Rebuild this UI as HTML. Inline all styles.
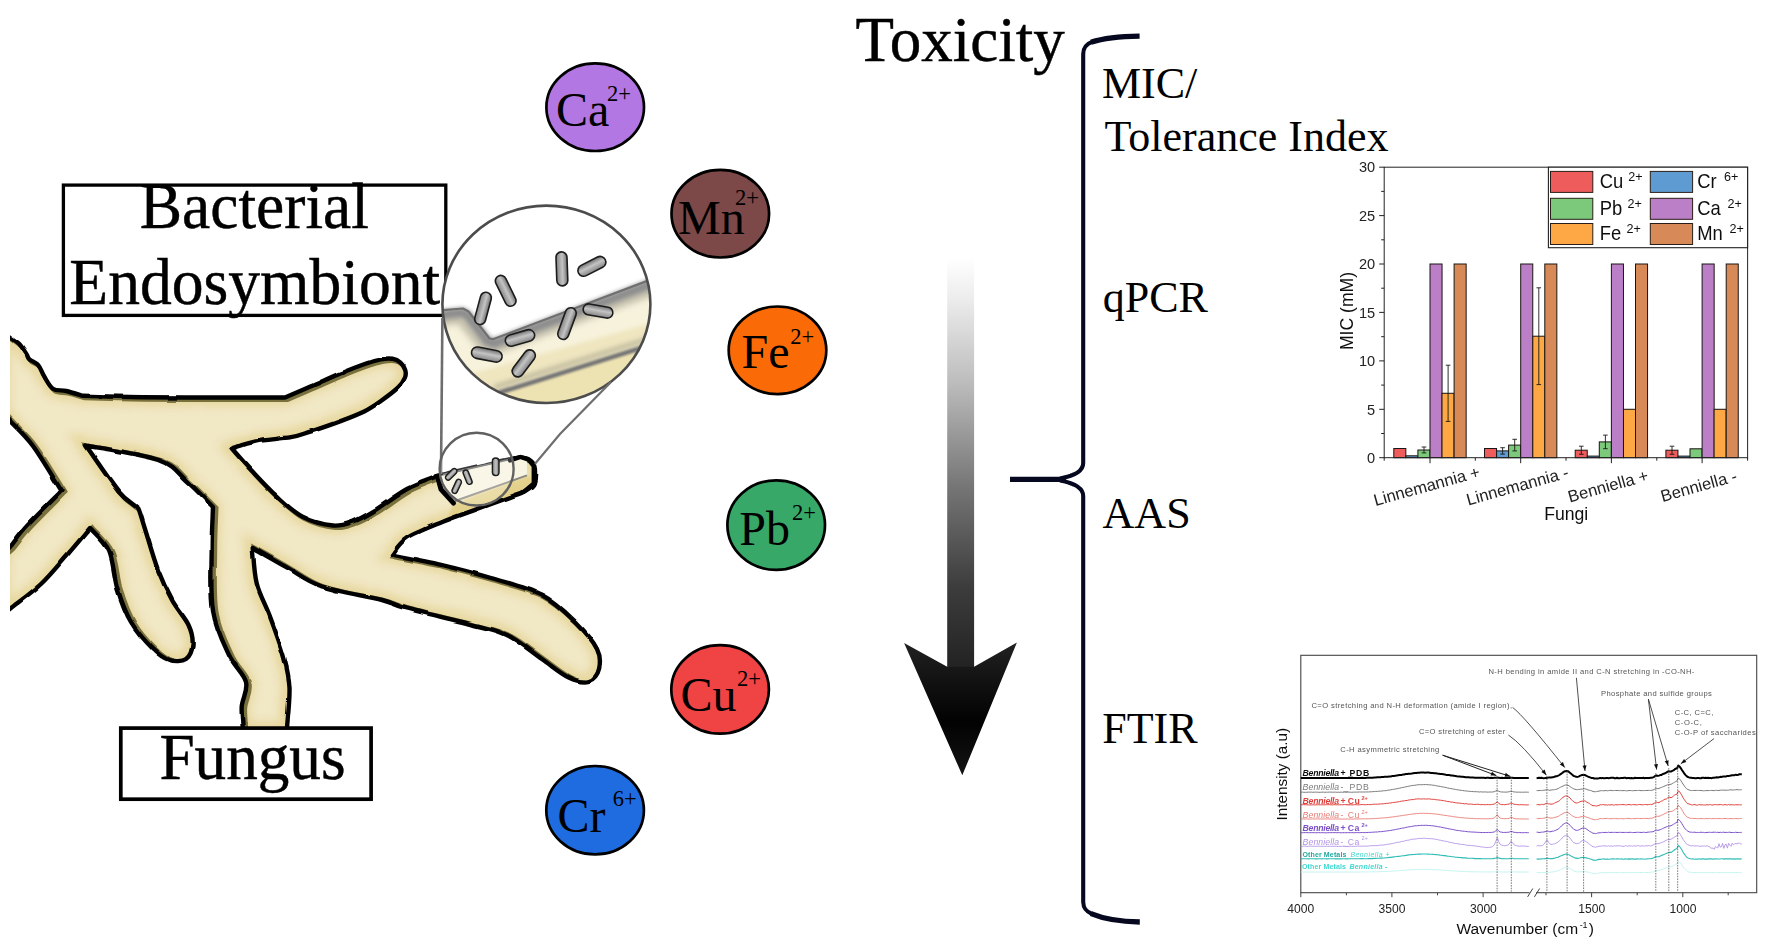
<!DOCTYPE html>
<html><head><meta charset="utf-8"><title>Graphical abstract</title>
<style>
html,body{margin:0;padding:0;background:#fff;}
body{width:1772px;height:952px;overflow:hidden;font-family:"Liberation Sans",sans-serif;}
svg{display:block}
.serif{font-family:"Liberation Serif",serif;}
.sans{font-family:"Liberation Sans",sans-serif;}
</style></head><body>
<svg width="1772" height="952" viewBox="0 0 1772 952">
<defs>
<clipPath id="leftclip"><rect x="10" y="0" width="1000" height="952"/></clipPath>
<clipPath id="bodyclip"><path d="M2.0 331.0 C3.4 332.0 7.5 335.1 10.3 337.2 C13.2 339.3 16.4 341.0 19.1 343.8 C21.8 346.6 24.8 351.5 26.5 354.1 C28.2 356.7 27.4 357.5 29.4 359.3 C31.3 361.1 35.8 362.3 38.2 365.1 C40.7 367.9 41.7 372.3 44.1 376.2 C46.5 380.1 49.2 386.2 52.9 388.7 C56.6 391.2 61.2 389.8 66.2 391.0 C71.2 392.2 80.2 395.0 83.0 395.8 C90.8 396.0 112.8 396.7 130.0 397.0 C147.2 397.3 160.2 397.4 186.0 397.5 C211.8 397.6 268.5 397.5 285.0 397.5 C289.2 395.7 301.3 390.5 310.4 386.6 C319.4 382.7 330.2 377.7 339.3 373.9 C348.4 370.1 357.8 366.4 364.7 364.0 C371.6 361.6 376.3 360.3 380.9 359.4 C385.5 358.5 389.2 358.3 392.5 358.8 C395.8 359.3 398.4 360.7 400.5 362.6 C402.6 364.5 404.4 367.5 405.2 370.0 C405.9 372.5 406.2 374.6 405.0 377.5 C403.8 380.4 402.2 383.5 398.2 387.4 C394.2 391.3 386.5 397.0 380.9 401.0 C375.3 405.0 371.6 407.8 364.7 411.2 C357.8 414.6 348.4 418.2 339.3 421.6 C330.2 425.0 318.4 429.0 310.4 431.6 C302.3 434.2 300.1 435.6 291.0 437.2 C281.9 438.8 265.4 439.6 255.6 441.5 C245.8 443.4 235.9 447.4 232.0 448.6 C235.3 452.3 244.5 463.0 252.0 471.0 C259.5 479.0 268.6 488.9 277.0 496.5 C285.4 504.1 293.3 511.9 302.6 516.7 C311.9 521.5 324.6 524.7 333.0 525.5 C341.4 526.3 346.2 524.1 353.0 521.7 C359.8 519.3 364.6 516.5 373.6 511.0 C382.6 505.6 396.4 494.8 407.0 489.0 C417.6 483.2 432.4 478.6 437.5 476.5 C438.4 476.1 429.4 477.5 443.0 474.3 C456.6 471.1 506.6 460.1 519.3 457.2 C520.8 457.6 526.1 457.8 528.6 459.3 C531.1 460.8 533.5 462.2 534.4 466.2 C535.3 470.2 535.5 479.3 533.8 483.5 C532.1 487.7 527.6 489.5 524.0 491.6 C520.4 493.7 520.1 493.3 512.4 496.2 C504.7 499.1 489.4 504.6 477.8 508.9 C466.2 513.1 454.8 516.9 443.0 521.7 C431.2 526.6 415.5 532.5 407.0 538.0 C398.5 543.5 394.5 551.9 392.0 554.7 C400.2 556.4 424.5 560.9 441.0 564.8 C457.5 568.7 474.2 573.0 491.0 578.0 C507.8 583.0 527.7 587.7 541.8 595.0 C555.9 602.3 566.3 613.0 575.5 622.0 C584.7 631.0 593.1 641.2 597.0 649.0 C600.9 656.8 600.3 663.7 599.0 669.0 C597.7 674.3 594.0 679.6 589.0 681.0 C584.0 682.4 576.6 681.2 568.7 677.5 C560.8 673.8 551.9 666.0 541.8 659.0 C531.7 652.0 519.2 641.2 508.0 635.5 C496.8 629.8 491.3 629.5 474.5 625.0 C457.7 620.5 422.4 612.7 407.0 608.5 C391.6 604.3 396.2 603.7 382.0 600.0 C367.8 596.3 337.9 591.9 322.0 586.5 C306.1 581.1 298.4 573.8 286.8 567.4 C275.2 561.0 258.4 551.2 252.7 548.0 C253.4 554.0 253.9 572.4 256.8 583.8 C259.7 595.2 265.5 604.3 270.0 616.6 C274.5 628.9 280.8 645.7 284.0 657.5 C287.2 669.3 289.0 675.5 289.5 687.6 C290.0 699.7 287.2 722.9 286.8 730.0 L243.0 730.0 C242.8 726.1 241.2 714.7 241.7 706.7 C242.2 698.7 248.1 690.6 246.0 682.0 C243.9 673.4 234.5 666.8 229.0 655.0 C223.5 643.2 215.9 628.8 213.0 611.0 C210.1 593.2 211.7 565.3 211.7 548.0 C211.7 530.7 212.8 513.8 213.0 507.0 C208.6 502.7 195.6 488.8 186.6 481.0 C177.6 473.2 175.8 465.9 159.0 460.0 C142.2 454.1 98.2 447.9 86.0 445.5 C91.4 453.2 110.2 481.3 118.5 491.5 C126.8 501.7 132.6 503.5 136.0 506.6 C139.4 509.7 137.5 506.3 139.0 510.0 C140.5 513.7 141.8 519.0 145.0 529.0 C148.2 539.0 153.5 558.2 158.0 570.0 C162.5 581.8 166.9 590.8 172.0 600.0 C177.1 609.2 185.1 617.7 188.5 625.0 C191.9 632.3 193.0 638.3 192.6 644.0 C192.2 649.7 189.9 656.3 186.0 659.0 C182.1 661.7 174.5 661.7 169.0 660.0 C163.5 658.3 159.3 655.3 153.0 649.0 C146.7 642.7 136.9 632.0 131.0 622.0 C125.1 612.0 121.2 600.8 117.5 589.0 C113.8 577.2 113.6 561.2 109.0 551.0 C104.4 540.8 93.2 531.8 90.0 528.0 C86.3 532.3 76.2 544.7 68.0 554.0 C59.8 563.3 50.5 575.0 41.0 584.0 C31.5 593.0 17.5 602.8 11.0 608.0 C4.5 613.2 3.5 613.8 2.0 615.0 L2.0 553.0 C3.3 552.0 5.8 551.5 10.0 547.0 C14.2 542.5 18.4 535.3 27.0 526.0 C35.6 516.7 55.8 496.8 61.5 491.0 C56.8 483.5 41.6 457.7 33.0 446.0 C24.4 434.3 15.2 426.5 10.0 421.0 C4.8 415.5 3.3 414.3 2.0 413.0 L2.0 331.0 Z"/></clipPath>
<filter id="wobble" x="-2%" y="-2%" width="104%" height="104%"><feTurbulence type="fractalNoise" baseFrequency="0.055" numOctaves="1" seed="4" result="n"/><feDisplacementMap in="SourceGraphic" in2="n" scale="3.2" xChannelSelector="R" yChannelSelector="G"/></filter>
<filter id="blur4" x="-10%" y="-10%" width="120%" height="120%"><feGaussianBlur stdDeviation="4"/></filter>
<filter id="blur3" x="-10%" y="-10%" width="120%" height="120%"><feGaussianBlur stdDeviation="3"/></filter>
<filter id="blur2" x="-10%" y="-10%" width="120%" height="120%"><feGaussianBlur stdDeviation="2"/></filter>
<filter id="blur1" x="-10%" y="-10%" width="120%" height="120%"><feGaussianBlur stdDeviation="1"/></filter>
<filter id="blur06" x="-10%" y="-10%" width="120%" height="120%"><feGaussianBlur stdDeviation="0.6"/></filter>
<filter id="blur04" x="-5%" y="-5%" width="110%" height="110%"><feGaussianBlur stdDeviation="0.45"/></filter>
<linearGradient id="arrowg" gradientUnits="userSpaceOnUse" x1="0" y1="258" x2="0" y2="670">
<stop offset="0" stop-color="#ffffff"/><stop offset="0.1" stop-color="#ececec"/><stop offset="0.3" stop-color="#bdbdbd"/><stop offset="0.55" stop-color="#777"/><stop offset="0.8" stop-color="#3c3c3c"/><stop offset="1" stop-color="#222"/>
</linearGradient>
<linearGradient id="headg" gradientUnits="userSpaceOnUse" x1="0" y1="640" x2="0" y2="776">
<stop offset="0" stop-color="#222"/><stop offset="0.6" stop-color="#020202"/><stop offset="1" stop-color="#141414"/>
</linearGradient>
<linearGradient id="rodg" x1="0" y1="0" x2="0" y2="1">
<stop offset="0" stop-color="#707070"/><stop offset="0.45" stop-color="#c4c4c4"/><stop offset="1" stop-color="#848484"/>
</linearGradient>
<clipPath id="lensclip"><ellipse cx="546.4" cy="304.3" rx="104" ry="98.7"/></clipPath>
</defs>
<rect width="1772" height="952" fill="#fff"/>
<g clip-path="url(#leftclip)"><g filter="url(#wobble)">
<path d="M2.0 331.0 C3.4 332.0 7.5 335.1 10.3 337.2 C13.2 339.3 16.4 341.0 19.1 343.8 C21.8 346.6 24.8 351.5 26.5 354.1 C28.2 356.7 27.4 357.5 29.4 359.3 C31.3 361.1 35.8 362.3 38.2 365.1 C40.7 367.9 41.7 372.3 44.1 376.2 C46.5 380.1 49.2 386.2 52.9 388.7 C56.6 391.2 61.2 389.8 66.2 391.0 C71.2 392.2 80.2 395.0 83.0 395.8 C90.8 396.0 112.8 396.7 130.0 397.0 C147.2 397.3 160.2 397.4 186.0 397.5 C211.8 397.6 268.5 397.5 285.0 397.5 C289.2 395.7 301.3 390.5 310.4 386.6 C319.4 382.7 330.2 377.7 339.3 373.9 C348.4 370.1 357.8 366.4 364.7 364.0 C371.6 361.6 376.3 360.3 380.9 359.4 C385.5 358.5 389.2 358.3 392.5 358.8 C395.8 359.3 398.4 360.7 400.5 362.6 C402.6 364.5 404.4 367.5 405.2 370.0 C405.9 372.5 406.2 374.6 405.0 377.5 C403.8 380.4 402.2 383.5 398.2 387.4 C394.2 391.3 386.5 397.0 380.9 401.0 C375.3 405.0 371.6 407.8 364.7 411.2 C357.8 414.6 348.4 418.2 339.3 421.6 C330.2 425.0 318.4 429.0 310.4 431.6 C302.3 434.2 300.1 435.6 291.0 437.2 C281.9 438.8 265.4 439.6 255.6 441.5 C245.8 443.4 235.9 447.4 232.0 448.6 C235.3 452.3 244.5 463.0 252.0 471.0 C259.5 479.0 268.6 488.9 277.0 496.5 C285.4 504.1 293.3 511.9 302.6 516.7 C311.9 521.5 324.6 524.7 333.0 525.5 C341.4 526.3 346.2 524.1 353.0 521.7 C359.8 519.3 364.6 516.5 373.6 511.0 C382.6 505.6 396.4 494.8 407.0 489.0 C417.6 483.2 432.4 478.6 437.5 476.5 C438.4 476.1 429.4 477.5 443.0 474.3 C456.6 471.1 506.6 460.1 519.3 457.2 C520.8 457.6 526.1 457.8 528.6 459.3 C531.1 460.8 533.5 462.2 534.4 466.2 C535.3 470.2 535.5 479.3 533.8 483.5 C532.1 487.7 527.6 489.5 524.0 491.6 C520.4 493.7 520.1 493.3 512.4 496.2 C504.7 499.1 489.4 504.6 477.8 508.9 C466.2 513.1 454.8 516.9 443.0 521.7 C431.2 526.6 415.5 532.5 407.0 538.0 C398.5 543.5 394.5 551.9 392.0 554.7 C400.2 556.4 424.5 560.9 441.0 564.8 C457.5 568.7 474.2 573.0 491.0 578.0 C507.8 583.0 527.7 587.7 541.8 595.0 C555.9 602.3 566.3 613.0 575.5 622.0 C584.7 631.0 593.1 641.2 597.0 649.0 C600.9 656.8 600.3 663.7 599.0 669.0 C597.7 674.3 594.0 679.6 589.0 681.0 C584.0 682.4 576.6 681.2 568.7 677.5 C560.8 673.8 551.9 666.0 541.8 659.0 C531.7 652.0 519.2 641.2 508.0 635.5 C496.8 629.8 491.3 629.5 474.5 625.0 C457.7 620.5 422.4 612.7 407.0 608.5 C391.6 604.3 396.2 603.7 382.0 600.0 C367.8 596.3 337.9 591.9 322.0 586.5 C306.1 581.1 298.4 573.8 286.8 567.4 C275.2 561.0 258.4 551.2 252.7 548.0 C253.4 554.0 253.9 572.4 256.8 583.8 C259.7 595.2 265.5 604.3 270.0 616.6 C274.5 628.9 280.8 645.7 284.0 657.5 C287.2 669.3 289.0 675.5 289.5 687.6 C290.0 699.7 287.2 722.9 286.8 730.0 L243.0 730.0 C242.8 726.1 241.2 714.7 241.7 706.7 C242.2 698.7 248.1 690.6 246.0 682.0 C243.9 673.4 234.5 666.8 229.0 655.0 C223.5 643.2 215.9 628.8 213.0 611.0 C210.1 593.2 211.7 565.3 211.7 548.0 C211.7 530.7 212.8 513.8 213.0 507.0 C208.6 502.7 195.6 488.8 186.6 481.0 C177.6 473.2 175.8 465.9 159.0 460.0 C142.2 454.1 98.2 447.9 86.0 445.5 C91.4 453.2 110.2 481.3 118.5 491.5 C126.8 501.7 132.6 503.5 136.0 506.6 C139.4 509.7 137.5 506.3 139.0 510.0 C140.5 513.7 141.8 519.0 145.0 529.0 C148.2 539.0 153.5 558.2 158.0 570.0 C162.5 581.8 166.9 590.8 172.0 600.0 C177.1 609.2 185.1 617.7 188.5 625.0 C191.9 632.3 193.0 638.3 192.6 644.0 C192.2 649.7 189.9 656.3 186.0 659.0 C182.1 661.7 174.5 661.7 169.0 660.0 C163.5 658.3 159.3 655.3 153.0 649.0 C146.7 642.7 136.9 632.0 131.0 622.0 C125.1 612.0 121.2 600.8 117.5 589.0 C113.8 577.2 113.6 561.2 109.0 551.0 C104.4 540.8 93.2 531.8 90.0 528.0 C86.3 532.3 76.2 544.7 68.0 554.0 C59.8 563.3 50.5 575.0 41.0 584.0 C31.5 593.0 17.5 602.8 11.0 608.0 C4.5 613.2 3.5 613.8 2.0 615.0 L2.0 553.0 C3.3 552.0 5.8 551.5 10.0 547.0 C14.2 542.5 18.4 535.3 27.0 526.0 C35.6 516.7 55.8 496.8 61.5 491.0 C56.8 483.5 41.6 457.7 33.0 446.0 C24.4 434.3 15.2 426.5 10.0 421.0 C4.8 415.5 3.3 414.3 2.0 413.0 L2.0 331.0 Z" fill="#f1e8c6"/>
<g clip-path="url(#bodyclip)">
<path d="M2.0 331.0 C3.4 332.0 7.5 335.1 10.3 337.2 C13.2 339.3 16.4 341.0 19.1 343.8 C21.8 346.6 24.8 351.5 26.5 354.1 C28.2 356.7 27.4 357.5 29.4 359.3 C31.3 361.1 35.8 362.3 38.2 365.1 C40.7 367.9 41.7 372.3 44.1 376.2 C46.5 380.1 49.2 386.2 52.9 388.7 C56.6 391.2 61.2 389.8 66.2 391.0 C71.2 392.2 80.2 395.0 83.0 395.8 C90.8 396.0 112.8 396.7 130.0 397.0 C147.2 397.3 160.2 397.4 186.0 397.5 C211.8 397.6 268.5 397.5 285.0 397.5 C289.2 395.7 301.3 390.5 310.4 386.6 C319.4 382.7 330.2 377.7 339.3 373.9 C348.4 370.1 357.8 366.4 364.7 364.0 C371.6 361.6 376.3 360.3 380.9 359.4 C385.5 358.5 389.2 358.3 392.5 358.8 C395.8 359.3 398.4 360.7 400.5 362.6 C402.6 364.5 404.4 367.5 405.2 370.0 C405.9 372.5 406.2 374.6 405.0 377.5 C403.8 380.4 402.2 383.5 398.2 387.4 C394.2 391.3 386.5 397.0 380.9 401.0 C375.3 405.0 371.6 407.8 364.7 411.2 C357.8 414.6 348.4 418.2 339.3 421.6 C330.2 425.0 318.4 429.0 310.4 431.6 C302.3 434.2 300.1 435.6 291.0 437.2 C281.9 438.8 265.4 439.6 255.6 441.5 C245.8 443.4 235.9 447.4 232.0 448.6 C235.3 452.3 244.5 463.0 252.0 471.0 C259.5 479.0 268.6 488.9 277.0 496.5 C285.4 504.1 293.3 511.9 302.6 516.7 C311.9 521.5 324.6 524.7 333.0 525.5 C341.4 526.3 346.2 524.1 353.0 521.7 C359.8 519.3 364.6 516.5 373.6 511.0 C382.6 505.6 396.4 494.8 407.0 489.0 C417.6 483.2 432.4 478.6 437.5 476.5 C438.4 476.1 429.4 477.5 443.0 474.3 C456.6 471.1 506.6 460.1 519.3 457.2 C520.8 457.6 526.1 457.8 528.6 459.3 C531.1 460.8 533.5 462.2 534.4 466.2 C535.3 470.2 535.5 479.3 533.8 483.5 C532.1 487.7 527.6 489.5 524.0 491.6 C520.4 493.7 520.1 493.3 512.4 496.2 C504.7 499.1 489.4 504.6 477.8 508.9 C466.2 513.1 454.8 516.9 443.0 521.7 C431.2 526.6 415.5 532.5 407.0 538.0 C398.5 543.5 394.5 551.9 392.0 554.7 C400.2 556.4 424.5 560.9 441.0 564.8 C457.5 568.7 474.2 573.0 491.0 578.0 C507.8 583.0 527.7 587.7 541.8 595.0 C555.9 602.3 566.3 613.0 575.5 622.0 C584.7 631.0 593.1 641.2 597.0 649.0 C600.9 656.8 600.3 663.7 599.0 669.0 C597.7 674.3 594.0 679.6 589.0 681.0 C584.0 682.4 576.6 681.2 568.7 677.5 C560.8 673.8 551.9 666.0 541.8 659.0 C531.7 652.0 519.2 641.2 508.0 635.5 C496.8 629.8 491.3 629.5 474.5 625.0 C457.7 620.5 422.4 612.7 407.0 608.5 C391.6 604.3 396.2 603.7 382.0 600.0 C367.8 596.3 337.9 591.9 322.0 586.5 C306.1 581.1 298.4 573.8 286.8 567.4 C275.2 561.0 258.4 551.2 252.7 548.0 C253.4 554.0 253.9 572.4 256.8 583.8 C259.7 595.2 265.5 604.3 270.0 616.6 C274.5 628.9 280.8 645.7 284.0 657.5 C287.2 669.3 289.0 675.5 289.5 687.6 C290.0 699.7 287.2 722.9 286.8 730.0 L243.0 730.0 C242.8 726.1 241.2 714.7 241.7 706.7 C242.2 698.7 248.1 690.6 246.0 682.0 C243.9 673.4 234.5 666.8 229.0 655.0 C223.5 643.2 215.9 628.8 213.0 611.0 C210.1 593.2 211.7 565.3 211.7 548.0 C211.7 530.7 212.8 513.8 213.0 507.0 C208.6 502.7 195.6 488.8 186.6 481.0 C177.6 473.2 175.8 465.9 159.0 460.0 C142.2 454.1 98.2 447.9 86.0 445.5 C91.4 453.2 110.2 481.3 118.5 491.5 C126.8 501.7 132.6 503.5 136.0 506.6 C139.4 509.7 137.5 506.3 139.0 510.0 C140.5 513.7 141.8 519.0 145.0 529.0 C148.2 539.0 153.5 558.2 158.0 570.0 C162.5 581.8 166.9 590.8 172.0 600.0 C177.1 609.2 185.1 617.7 188.5 625.0 C191.9 632.3 193.0 638.3 192.6 644.0 C192.2 649.7 189.9 656.3 186.0 659.0 C182.1 661.7 174.5 661.7 169.0 660.0 C163.5 658.3 159.3 655.3 153.0 649.0 C146.7 642.7 136.9 632.0 131.0 622.0 C125.1 612.0 121.2 600.8 117.5 589.0 C113.8 577.2 113.6 561.2 109.0 551.0 C104.4 540.8 93.2 531.8 90.0 528.0 C86.3 532.3 76.2 544.7 68.0 554.0 C59.8 563.3 50.5 575.0 41.0 584.0 C31.5 593.0 17.5 602.8 11.0 608.0 C4.5 613.2 3.5 613.8 2.0 615.0 L2.0 553.0 C3.3 552.0 5.8 551.5 10.0 547.0 C14.2 542.5 18.4 535.3 27.0 526.0 C35.6 516.7 55.8 496.8 61.5 491.0 C56.8 483.5 41.6 457.7 33.0 446.0 C24.4 434.3 15.2 426.5 10.0 421.0 C4.8 415.5 3.3 414.3 2.0 413.0 L2.0 331.0 Z" fill="none" stroke="#e0cb80" stroke-width="17" filter="url(#blur4)" opacity="0.55"/>
<path d="M2.0 331.0 C3.4 332.0 7.5 335.1 10.3 337.2 C13.2 339.3 16.4 341.0 19.1 343.8 C21.8 346.6 24.8 351.5 26.5 354.1 C28.2 356.7 27.4 357.5 29.4 359.3 C31.3 361.1 35.8 362.3 38.2 365.1 C40.7 367.9 41.7 372.3 44.1 376.2 C46.5 380.1 49.2 386.2 52.9 388.7 C56.6 391.2 61.2 389.8 66.2 391.0 C71.2 392.2 80.2 395.0 83.0 395.8 C90.8 396.0 112.8 396.7 130.0 397.0 C147.2 397.3 160.2 397.4 186.0 397.5 C211.8 397.6 268.5 397.5 285.0 397.5 C289.2 395.7 301.3 390.5 310.4 386.6 C319.4 382.7 330.2 377.7 339.3 373.9 C348.4 370.1 357.8 366.4 364.7 364.0 C371.6 361.6 376.3 360.3 380.9 359.4 C385.5 358.5 389.2 358.3 392.5 358.8 C395.8 359.3 398.4 360.7 400.5 362.6 C402.6 364.5 404.4 367.5 405.2 370.0 C405.9 372.5 406.2 374.6 405.0 377.5 C403.8 380.4 402.2 383.5 398.2 387.4 C394.2 391.3 386.5 397.0 380.9 401.0 C375.3 405.0 371.6 407.8 364.7 411.2 C357.8 414.6 348.4 418.2 339.3 421.6 C330.2 425.0 318.4 429.0 310.4 431.6 C302.3 434.2 300.1 435.6 291.0 437.2 C281.9 438.8 265.4 439.6 255.6 441.5 C245.8 443.4 235.9 447.4 232.0 448.6 C235.3 452.3 244.5 463.0 252.0 471.0 C259.5 479.0 268.6 488.9 277.0 496.5 C285.4 504.1 293.3 511.9 302.6 516.7 C311.9 521.5 324.6 524.7 333.0 525.5 C341.4 526.3 346.2 524.1 353.0 521.7 C359.8 519.3 364.6 516.5 373.6 511.0 C382.6 505.6 396.4 494.8 407.0 489.0 C417.6 483.2 432.4 478.6 437.5 476.5 C438.4 476.1 429.4 477.5 443.0 474.3 C456.6 471.1 506.6 460.1 519.3 457.2 C520.8 457.6 526.1 457.8 528.6 459.3 C531.1 460.8 533.5 462.2 534.4 466.2 C535.3 470.2 535.5 479.3 533.8 483.5 C532.1 487.7 527.6 489.5 524.0 491.6 C520.4 493.7 520.1 493.3 512.4 496.2 C504.7 499.1 489.4 504.6 477.8 508.9 C466.2 513.1 454.8 516.9 443.0 521.7 C431.2 526.6 415.5 532.5 407.0 538.0 C398.5 543.5 394.5 551.9 392.0 554.7 C400.2 556.4 424.5 560.9 441.0 564.8 C457.5 568.7 474.2 573.0 491.0 578.0 C507.8 583.0 527.7 587.7 541.8 595.0 C555.9 602.3 566.3 613.0 575.5 622.0 C584.7 631.0 593.1 641.2 597.0 649.0 C600.9 656.8 600.3 663.7 599.0 669.0 C597.7 674.3 594.0 679.6 589.0 681.0 C584.0 682.4 576.6 681.2 568.7 677.5 C560.8 673.8 551.9 666.0 541.8 659.0 C531.7 652.0 519.2 641.2 508.0 635.5 C496.8 629.8 491.3 629.5 474.5 625.0 C457.7 620.5 422.4 612.7 407.0 608.5 C391.6 604.3 396.2 603.7 382.0 600.0 C367.8 596.3 337.9 591.9 322.0 586.5 C306.1 581.1 298.4 573.8 286.8 567.4 C275.2 561.0 258.4 551.2 252.7 548.0 C253.4 554.0 253.9 572.4 256.8 583.8 C259.7 595.2 265.5 604.3 270.0 616.6 C274.5 628.9 280.8 645.7 284.0 657.5 C287.2 669.3 289.0 675.5 289.5 687.6 C290.0 699.7 287.2 722.9 286.8 730.0 L243.0 730.0 C242.8 726.1 241.2 714.7 241.7 706.7 C242.2 698.7 248.1 690.6 246.0 682.0 C243.9 673.4 234.5 666.8 229.0 655.0 C223.5 643.2 215.9 628.8 213.0 611.0 C210.1 593.2 211.7 565.3 211.7 548.0 C211.7 530.7 212.8 513.8 213.0 507.0 C208.6 502.7 195.6 488.8 186.6 481.0 C177.6 473.2 175.8 465.9 159.0 460.0 C142.2 454.1 98.2 447.9 86.0 445.5 C91.4 453.2 110.2 481.3 118.5 491.5 C126.8 501.7 132.6 503.5 136.0 506.6 C139.4 509.7 137.5 506.3 139.0 510.0 C140.5 513.7 141.8 519.0 145.0 529.0 C148.2 539.0 153.5 558.2 158.0 570.0 C162.5 581.8 166.9 590.8 172.0 600.0 C177.1 609.2 185.1 617.7 188.5 625.0 C191.9 632.3 193.0 638.3 192.6 644.0 C192.2 649.7 189.9 656.3 186.0 659.0 C182.1 661.7 174.5 661.7 169.0 660.0 C163.5 658.3 159.3 655.3 153.0 649.0 C146.7 642.7 136.9 632.0 131.0 622.0 C125.1 612.0 121.2 600.8 117.5 589.0 C113.8 577.2 113.6 561.2 109.0 551.0 C104.4 540.8 93.2 531.8 90.0 528.0 C86.3 532.3 76.2 544.7 68.0 554.0 C59.8 563.3 50.5 575.0 41.0 584.0 C31.5 593.0 17.5 602.8 11.0 608.0 C4.5 613.2 3.5 613.8 2.0 615.0 L2.0 553.0 C3.3 552.0 5.8 551.5 10.0 547.0 C14.2 542.5 18.4 535.3 27.0 526.0 C35.6 516.7 55.8 496.8 61.5 491.0 C56.8 483.5 41.6 457.7 33.0 446.0 C24.4 434.3 15.2 426.5 10.0 421.0 C4.8 415.5 3.3 414.3 2.0 413.0 L2.0 331.0 Z" fill="none" stroke="#4e4618" stroke-width="6.4" filter="url(#blur06)" opacity="0.72" transform="translate(2.3,1.3)"/>
<path d="M454 503 L527 476.5 L533 478 L533 486 L524 492 L478 509 L446 521 Z" fill="#e2cf84" opacity="0.8" filter="url(#blur1)"/>
</g>
<path d="M2.0 331.0 C3.4 332.0 7.5 335.1 10.3 337.2 C13.2 339.3 16.4 341.0 19.1 343.8 C21.8 346.6 24.8 351.5 26.5 354.1 C28.2 356.7 27.4 357.5 29.4 359.3 C31.3 361.1 35.8 362.3 38.2 365.1 C40.7 367.9 41.7 372.3 44.1 376.2 C46.5 380.1 49.2 386.2 52.9 388.7 C56.6 391.2 61.2 389.8 66.2 391.0 C71.2 392.2 80.2 395.0 83.0 395.8 C90.8 396.0 112.8 396.7 130.0 397.0 C147.2 397.3 160.2 397.4 186.0 397.5 C211.8 397.6 268.5 397.5 285.0 397.5 C289.2 395.7 301.3 390.5 310.4 386.6 C319.4 382.7 330.2 377.7 339.3 373.9 C348.4 370.1 357.8 366.4 364.7 364.0 C371.6 361.6 376.3 360.3 380.9 359.4 C385.5 358.5 389.2 358.3 392.5 358.8 C395.8 359.3 398.4 360.7 400.5 362.6 C402.6 364.5 404.4 367.5 405.2 370.0 C405.9 372.5 406.2 374.6 405.0 377.5 C403.8 380.4 402.2 383.5 398.2 387.4 C394.2 391.3 386.5 397.0 380.9 401.0 C375.3 405.0 371.6 407.8 364.7 411.2 C357.8 414.6 348.4 418.2 339.3 421.6 C330.2 425.0 318.4 429.0 310.4 431.6 C302.3 434.2 300.1 435.6 291.0 437.2 C281.9 438.8 265.4 439.6 255.6 441.5 C245.8 443.4 235.9 447.4 232.0 448.6 C235.3 452.3 244.5 463.0 252.0 471.0 C259.5 479.0 268.6 488.9 277.0 496.5 C285.4 504.1 293.3 511.9 302.6 516.7 C311.9 521.5 324.6 524.7 333.0 525.5 C341.4 526.3 346.2 524.1 353.0 521.7 C359.8 519.3 364.6 516.5 373.6 511.0 C382.6 505.6 396.4 494.8 407.0 489.0 C417.6 483.2 432.4 478.6 437.5 476.5 C438.4 476.1 429.4 477.5 443.0 474.3 C456.6 471.1 506.6 460.1 519.3 457.2 C520.8 457.6 526.1 457.8 528.6 459.3 C531.1 460.8 533.5 462.2 534.4 466.2 C535.3 470.2 535.5 479.3 533.8 483.5 C532.1 487.7 527.6 489.5 524.0 491.6 C520.4 493.7 520.1 493.3 512.4 496.2 C504.7 499.1 489.4 504.6 477.8 508.9 C466.2 513.1 454.8 516.9 443.0 521.7 C431.2 526.6 415.5 532.5 407.0 538.0 C398.5 543.5 394.5 551.9 392.0 554.7 C400.2 556.4 424.5 560.9 441.0 564.8 C457.5 568.7 474.2 573.0 491.0 578.0 C507.8 583.0 527.7 587.7 541.8 595.0 C555.9 602.3 566.3 613.0 575.5 622.0 C584.7 631.0 593.1 641.2 597.0 649.0 C600.9 656.8 600.3 663.7 599.0 669.0 C597.7 674.3 594.0 679.6 589.0 681.0 C584.0 682.4 576.6 681.2 568.7 677.5 C560.8 673.8 551.9 666.0 541.8 659.0 C531.7 652.0 519.2 641.2 508.0 635.5 C496.8 629.8 491.3 629.5 474.5 625.0 C457.7 620.5 422.4 612.7 407.0 608.5 C391.6 604.3 396.2 603.7 382.0 600.0 C367.8 596.3 337.9 591.9 322.0 586.5 C306.1 581.1 298.4 573.8 286.8 567.4 C275.2 561.0 258.4 551.2 252.7 548.0 C253.4 554.0 253.9 572.4 256.8 583.8 C259.7 595.2 265.5 604.3 270.0 616.6 C274.5 628.9 280.8 645.7 284.0 657.5 C287.2 669.3 289.0 675.5 289.5 687.6 C290.0 699.7 287.2 722.9 286.8 730.0 L243.0 730.0 C242.8 726.1 241.2 714.7 241.7 706.7 C242.2 698.7 248.1 690.6 246.0 682.0 C243.9 673.4 234.5 666.8 229.0 655.0 C223.5 643.2 215.9 628.8 213.0 611.0 C210.1 593.2 211.7 565.3 211.7 548.0 C211.7 530.7 212.8 513.8 213.0 507.0 C208.6 502.7 195.6 488.8 186.6 481.0 C177.6 473.2 175.8 465.9 159.0 460.0 C142.2 454.1 98.2 447.9 86.0 445.5 C91.4 453.2 110.2 481.3 118.5 491.5 C126.8 501.7 132.6 503.5 136.0 506.6 C139.4 509.7 137.5 506.3 139.0 510.0 C140.5 513.7 141.8 519.0 145.0 529.0 C148.2 539.0 153.5 558.2 158.0 570.0 C162.5 581.8 166.9 590.8 172.0 600.0 C177.1 609.2 185.1 617.7 188.5 625.0 C191.9 632.3 193.0 638.3 192.6 644.0 C192.2 649.7 189.9 656.3 186.0 659.0 C182.1 661.7 174.5 661.7 169.0 660.0 C163.5 658.3 159.3 655.3 153.0 649.0 C146.7 642.7 136.9 632.0 131.0 622.0 C125.1 612.0 121.2 600.8 117.5 589.0 C113.8 577.2 113.6 561.2 109.0 551.0 C104.4 540.8 93.2 531.8 90.0 528.0 C86.3 532.3 76.2 544.7 68.0 554.0 C59.8 563.3 50.5 575.0 41.0 584.0 C31.5 593.0 17.5 602.8 11.0 608.0 C4.5 613.2 3.5 613.8 2.0 615.0 L2.0 553.0 C3.3 552.0 5.8 551.5 10.0 547.0 C14.2 542.5 18.4 535.3 27.0 526.0 C35.6 516.7 55.8 496.8 61.5 491.0 C56.8 483.5 41.6 457.7 33.0 446.0 C24.4 434.3 15.2 426.5 10.0 421.0 C4.8 415.5 3.3 414.3 2.0 413.0 L2.0 331.0 Z" fill="none" stroke="#000" stroke-width="4.4" stroke-linejoin="round"/>
</g></g>
<rect x="63.4" y="185.1" width="382.4" height="130.3" fill="none" stroke="#000" stroke-width="3.3"/>
<g fill="#000" stroke="#000" stroke-width="0.45">
<text class="serif" transform="translate(254.3,228.3) scale(1,1.015)" font-size="63.5" text-anchor="middle">Bacterial</text>
<text class="serif" transform="translate(254.8,304) scale(1,1.015)" font-size="63.6" text-anchor="middle">Endosymbiont</text>
</g>
<rect x="120.8" y="728.1" width="250.3" height="71.1" fill="#fff" stroke="#000" stroke-width="3.7"/>
<text class="serif" transform="translate(252.5,778.7) scale(1,1.02)" font-size="63.2" text-anchor="middle" fill="#000" stroke="#000" stroke-width="0.45">Fungus</text>
<ellipse cx="546.4" cy="304.3" rx="104" ry="98.7" fill="#ffffff"/>
<g clip-path="url(#lensclip)">
<path d="M430 312 L463 310 L468 313 L489 340 L493 341 L655 279.5 L660 420 L430 420 Z" fill="#f7f2dc"/>
<path d="M500 392 L655 343 L660 420 L480 420 Z" fill="#ede2b2"/>
<path d="M470 374 L655 322 L655 342 L490 394 Z" fill="#efe6c0" filter="url(#blur2)"/>
<path d="M436 322 L460 319 L482 346 L494 350 L655 290" fill="none" stroke="#bdb9a6" stroke-width="9" stroke-linejoin="round" filter="url(#blur3)" opacity="0.9"/>
<path d="M432 316 L462 312.5 L467 315 L487 341 L494 343.5 L655 282.5" fill="none" stroke="#8e8e8e" stroke-width="10" stroke-linejoin="round" filter="url(#blur2)"/>
<path d="M432 311 L463 308.5 L468.5 311.5 L489.5 338.5 L493 339.3 L655 278" fill="none" stroke="#6f6f6f" stroke-width="2.2" stroke-linejoin="round" filter="url(#blur06)"/>
<path d="M494 387.5 L655 337" fill="none" stroke="#c4bea0" stroke-width="6" filter="url(#blur2)" opacity="0.9"/>
<path d="M498 393 L655 343.5" fill="none" stroke="#747474" stroke-width="4.6" filter="url(#blur1)"/>
</g>
<g transform="translate(561.9,268.9) rotate(88.0)"><rect x="-17.0" y="-5.5" width="34.0" height="11.0" rx="5.5" fill="url(#rodg)" stroke="#1c1c1c" stroke-width="1.6"/></g>
<g transform="translate(591.9,266.4) rotate(-27.0)"><rect x="-15.0" y="-5.8" width="30.0" height="11.5" rx="5.8" fill="url(#rodg)" stroke="#1c1c1c" stroke-width="1.6"/></g>
<g transform="translate(505.7,290.8) rotate(64.0)"><rect x="-16.5" y="-5.5" width="33.0" height="11.0" rx="5.5" fill="url(#rodg)" stroke="#1c1c1c" stroke-width="1.6"/></g>
<g transform="translate(483.0,308.4) rotate(105.0)"><rect x="-16.5" y="-5.5" width="33.0" height="11.0" rx="5.5" fill="url(#rodg)" stroke="#1c1c1c" stroke-width="1.6"/></g>
<g transform="translate(598.0,311.0) rotate(10.0)"><rect x="-15.0" y="-5.5" width="30.0" height="11.0" rx="5.5" fill="url(#rodg)" stroke="#1c1c1c" stroke-width="1.6"/></g>
<g transform="translate(567.0,323.6) rotate(110.0)"><rect x="-16.5" y="-5.5" width="33.0" height="11.0" rx="5.5" fill="url(#rodg)" stroke="#1c1c1c" stroke-width="1.6"/></g>
<g transform="translate(520.0,338.0) rotate(-16.0)"><rect x="-15.0" y="-5.8" width="30.0" height="11.5" rx="5.8" fill="url(#rodg)" stroke="#1c1c1c" stroke-width="1.6"/></g>
<g transform="translate(486.8,354.6) rotate(11.0)"><rect x="-15.5" y="-5.8" width="31.0" height="11.5" rx="5.8" fill="url(#rodg)" stroke="#1c1c1c" stroke-width="1.6"/></g>
<g transform="translate(523.8,363.4) rotate(-53.0)"><rect x="-15.5" y="-5.8" width="31.0" height="11.5" rx="5.8" fill="url(#rodg)" stroke="#1c1c1c" stroke-width="1.6"/></g>
<ellipse cx="546.4" cy="304.3" rx="104" ry="98.7" fill="none" stroke="#4c4c4c" stroke-width="2.6"/>
<path d="M442.4 318 L441 474" fill="none" stroke="#6e6e6e" stroke-width="2.6"/>
<path d="M611 382 L560 434 L534 465" fill="none" stroke="#6e6e6e" stroke-width="2.2"/>
<path d="M440 476 L519.3 457.2 L527 459 L527 475 L458 500 L453 502 Z" fill="#f8f4e2"/>
<path d="M455 501 L527 475.4" stroke="#8c8a80" stroke-width="2" fill="none" filter="url(#blur06)"/>
<path d="M443 474.6 L519.3 457.2" stroke="#666" stroke-width="1.7" fill="none"/>
<path d="M510 460.4 L520.5 457 L528.6 459.6 L533.8 466.2 L533.8 483.5 L524 491.6" stroke="#000" stroke-width="4.4" fill="none" stroke-linejoin="round" stroke-linecap="round"/>
<path d="M437.5 476.5 L441 489.3 L453.5 503.2" stroke="#000" stroke-width="5" fill="none" stroke-linejoin="round" stroke-linecap="round"/>
<ellipse cx="476.6" cy="469.1" rx="37" ry="36.4" fill="#ffffff" fill-opacity="0.22" stroke="#606060" stroke-width="2.4"/>
<g transform="translate(451.2,474.3) rotate(-45.0)"><rect x="-7.0" y="-2.7" width="14.0" height="5.4" rx="2.7" fill="url(#rodg)" stroke="#1c1c1c" stroke-width="1.4"/></g>
<g transform="translate(456.7,486.4) rotate(-65.0)"><rect x="-7.5" y="-2.7" width="15.0" height="5.4" rx="2.7" fill="url(#rodg)" stroke="#1c1c1c" stroke-width="1.4"/></g>
<g transform="translate(467.6,477.2) rotate(68.0)"><rect x="-7.5" y="-2.7" width="15.0" height="5.4" rx="2.7" fill="url(#rodg)" stroke="#1c1c1c" stroke-width="1.4"/></g>
<g transform="translate(495.7,466.8) rotate(90.0)"><rect x="-8.8" y="-3.3" width="17.5" height="6.6" rx="3.3" fill="url(#rodg)" stroke="#1c1c1c" stroke-width="1.4"/></g>
<ellipse cx="595.2" cy="107.2" rx="48.8" ry="43.8" fill="#b277e2" stroke="#000" stroke-width="2.7"/>
<text class="serif" x="556.0" y="125.7" font-size="48" fill="#000">Ca</text><text class="serif" x="607.0" y="100.7" font-size="22.5" fill="#000">2+</text>
<ellipse cx="720.3" cy="213.7" rx="48.8" ry="43.8" fill="#7c4848" stroke="#000" stroke-width="2.7"/>
<text class="serif" x="678.0" y="234.1" font-size="48" fill="#000">Mn</text><text class="serif" x="735.0" y="205.2" font-size="22.5" fill="#000">2+</text>
<ellipse cx="777.5" cy="350.3" rx="48.8" ry="43.8" fill="#fa6b08" stroke="#000" stroke-width="2.7"/>
<text class="serif" x="741.6" y="368.0" font-size="48" fill="#000">Fe</text><text class="serif" x="790.3" y="344.2" font-size="22.5" fill="#000">2+</text>
<ellipse cx="776.2" cy="525.1" rx="48.8" ry="44.8" fill="#38a868" stroke="#000" stroke-width="2.7"/>
<text class="serif" x="739.2" y="544.5" font-size="48" fill="#000">Pb</text><text class="serif" x="792.0" y="519.5" font-size="22.5" fill="#000">2+</text>
<ellipse cx="720.1" cy="689.4" rx="48.8" ry="44.2" fill="#f04444" stroke="#000" stroke-width="2.7"/>
<text class="serif" x="680.4" y="710.7" font-size="48" fill="#000">Cu</text><text class="serif" x="737.0" y="685.8" font-size="22.5" fill="#000">2+</text>
<ellipse cx="595.1" cy="810.2" rx="48.8" ry="44.2" fill="#1e6ce0" stroke="#000" stroke-width="2.7"/>
<text class="serif" x="557.6" y="831.7" font-size="48" fill="#000">Cr</text><text class="serif" x="612.8" y="806.4" font-size="22.5" fill="#000">6+</text>
<text class="serif" transform="translate(855.6,60.9) scale(1,1.02)" font-size="63" fill="#000" stroke="#000" stroke-width="0.45">Toxicity</text>
<rect x="947.2" y="256" width="26.9" height="415" fill="url(#arrowg)"/>
<path d="M904.1 643 L947.2 666.8 L974.1 666.8 L1016.9 642.6 L962.3 775.3 Z" fill="url(#headg)"/>
<path d="M1092 41.8 C1086 44 1083.2 47.5 1083.2 54 L1083.2 463 C1083.2 470 1077 475.5 1060 478.4 M1060 480.4 C1077 483.5 1083.2 489 1083.2 496 L1083.2 902 C1083.4 908.5 1086 911.5 1092 914" fill="none" stroke="#05081e" stroke-width="4.1" stroke-linejoin="round"/>
<path d="M1139.6 36.2 C1120 36.4 1104 38 1091 42.3" fill="none" stroke="#05081e" stroke-width="5.3"/>
<path d="M1139.8 922 C1120 921.6 1104 919 1091 913.6" fill="none" stroke="#05081e" stroke-width="5.3"/>
<path d="M1010 479.4 L1050 479.4 L1066 479.4" fill="none" stroke="#05081e" stroke-width="5.3"/>
<path d="M1048 479.4 L1062 477.4 L1074 472 L1062 479.4 L1074 487 L1062 481.6 Z" fill="#05081e"/>
<text class="serif" x="1102.0" y="98.0" font-size="44" fill="#000">MIC/</text>
<text class="serif" x="1104.5" y="151.0" font-size="44" fill="#000">Tolerance Index</text>
<text class="serif" x="1102.8" y="311.8" font-size="44" fill="#000">qPCR</text>
<text class="serif" x="1102.6" y="527.8" font-size="44" fill="#000">AAS</text>
<text class="serif" x="1102.2" y="742.8" font-size="44" fill="#000">FTIR</text>
<g class="sans" font-family="Liberation Sans" filter="url(#blur04)">
<rect x="1393.8" y="448.5" width="12.05" height="9.2" fill="#ee5b5b" stroke="#1c1612" stroke-width="1"/>
<rect x="1405.9" y="455.8" width="12.05" height="1.9" fill="#5f9bd3" stroke="#1c1612" stroke-width="1"/>
<rect x="1417.9" y="450.0" width="12.05" height="7.7" fill="#7cc97c" stroke="#1c1612" stroke-width="1"/>
<rect x="1430.0" y="264.0" width="12.05" height="193.7" fill="#bb7fc8" stroke="#1c1612" stroke-width="1"/>
<rect x="1442.0" y="393.3" width="12.05" height="64.4" fill="#fda844" stroke="#1c1612" stroke-width="1"/>
<rect x="1454.1" y="264.0" width="12.05" height="193.7" fill="#d78958" stroke="#1c1612" stroke-width="1"/>
<path d="M1424.0 447.0 V452.9 M1421.7 447.0 h4.6 M1421.7 452.9 h4.6" stroke="#1a1a1a" stroke-width="0.9" fill="none"/>
<path d="M1448.1 365.2 V421.4 M1445.8 365.2 h4.6 M1445.8 421.4 h4.6" stroke="#1a1a1a" stroke-width="0.9" fill="none"/>
<rect x="1484.5" y="448.5" width="12.05" height="9.2" fill="#ee5b5b" stroke="#1c1612" stroke-width="1"/>
<rect x="1496.6" y="450.9" width="12.05" height="6.8" fill="#5f9bd3" stroke="#1c1612" stroke-width="1"/>
<rect x="1508.6" y="445.1" width="12.05" height="12.6" fill="#7cc97c" stroke="#1c1612" stroke-width="1"/>
<rect x="1520.7" y="264.0" width="12.05" height="193.7" fill="#bb7fc8" stroke="#1c1612" stroke-width="1"/>
<rect x="1532.8" y="336.2" width="12.05" height="121.5" fill="#fda844" stroke="#1c1612" stroke-width="1"/>
<rect x="1544.8" y="264.0" width="12.05" height="193.7" fill="#d78958" stroke="#1c1612" stroke-width="1"/>
<path d="M1502.6 447.7 V454.1 M1500.3 447.7 h4.6 M1500.3 454.1 h4.6" stroke="#1a1a1a" stroke-width="0.9" fill="none"/>
<path d="M1514.7 439.3 V450.9 M1512.4 439.3 h4.6 M1512.4 450.9 h4.6" stroke="#1a1a1a" stroke-width="0.9" fill="none"/>
<path d="M1538.8 287.8 V384.6 M1536.5 287.8 h4.6 M1536.5 384.6 h4.6" stroke="#1a1a1a" stroke-width="0.9" fill="none"/>
<rect x="1575.2" y="450.2" width="12.05" height="7.5" fill="#ee5b5b" stroke="#1c1612" stroke-width="1"/>
<rect x="1587.3" y="456.1" width="12.05" height="1.6" fill="#5f9bd3" stroke="#1c1612" stroke-width="1"/>
<rect x="1599.3" y="441.9" width="12.05" height="15.8" fill="#7cc97c" stroke="#1c1612" stroke-width="1"/>
<rect x="1611.4" y="264.0" width="12.05" height="193.7" fill="#bb7fc8" stroke="#1c1612" stroke-width="1"/>
<rect x="1623.5" y="409.3" width="12.05" height="48.4" fill="#fda844" stroke="#1c1612" stroke-width="1"/>
<rect x="1635.5" y="264.0" width="12.05" height="193.7" fill="#d78958" stroke="#1c1612" stroke-width="1"/>
<path d="M1581.3 446.2 V454.3 M1579.0 446.2 h4.6 M1579.0 454.3 h4.6" stroke="#1a1a1a" stroke-width="0.9" fill="none"/>
<path d="M1605.4 435.1 V448.7 M1603.1 435.1 h4.6 M1603.1 448.7 h4.6" stroke="#1a1a1a" stroke-width="0.9" fill="none"/>
<rect x="1665.9" y="450.2" width="12.05" height="7.5" fill="#ee5b5b" stroke="#1c1612" stroke-width="1"/>
<rect x="1678.0" y="456.1" width="12.05" height="1.6" fill="#5f9bd3" stroke="#1c1612" stroke-width="1"/>
<rect x="1690.0" y="448.8" width="12.05" height="8.9" fill="#7cc97c" stroke="#1c1612" stroke-width="1"/>
<rect x="1702.1" y="264.0" width="12.05" height="193.7" fill="#bb7fc8" stroke="#1c1612" stroke-width="1"/>
<rect x="1714.1" y="409.3" width="12.05" height="48.4" fill="#fda844" stroke="#1c1612" stroke-width="1"/>
<rect x="1726.2" y="264.0" width="12.05" height="193.7" fill="#d78958" stroke="#1c1612" stroke-width="1"/>
<path d="M1672.0 446.2 V454.3 M1669.7 446.2 h4.6 M1669.7 454.3 h4.6" stroke="#1a1a1a" stroke-width="0.9" fill="none"/>
<rect x="1384.2" y="167.2" width="363.4" height="290.5" fill="none" stroke="#222" stroke-width="1"/>
<path d="M1379.2 457.7 H1384.2" stroke="#222" stroke-width="1"/>
<text x="1375.2" y="462.9" font-size="14.6" text-anchor="end" fill="#222">0</text>
<path d="M1379.2 409.3 H1384.2" stroke="#222" stroke-width="1"/>
<text x="1375.2" y="414.5" font-size="14.6" text-anchor="end" fill="#222">5</text>
<path d="M1379.2 360.9 H1384.2" stroke="#222" stroke-width="1"/>
<text x="1375.2" y="366.1" font-size="14.6" text-anchor="end" fill="#222">10</text>
<path d="M1379.2 312.4 H1384.2" stroke="#222" stroke-width="1"/>
<text x="1375.2" y="317.6" font-size="14.6" text-anchor="end" fill="#222">15</text>
<path d="M1379.2 264.0 H1384.2" stroke="#222" stroke-width="1"/>
<text x="1375.2" y="269.2" font-size="14.6" text-anchor="end" fill="#222">20</text>
<path d="M1379.2 215.6 H1384.2" stroke="#222" stroke-width="1"/>
<text x="1375.2" y="220.8" font-size="14.6" text-anchor="end" fill="#222">25</text>
<path d="M1379.2 167.2 H1384.2" stroke="#222" stroke-width="1"/>
<text x="1375.2" y="172.4" font-size="14.6" text-anchor="end" fill="#222">30</text>
<path d="M1381.2 433.5 H1384.2" stroke="#222" stroke-width="1"/>
<path d="M1381.2 385.1 H1384.2" stroke="#222" stroke-width="1"/>
<path d="M1381.2 336.7 H1384.2" stroke="#222" stroke-width="1"/>
<path d="M1381.2 288.2 H1384.2" stroke="#222" stroke-width="1"/>
<path d="M1381.2 239.8 H1384.2" stroke="#222" stroke-width="1"/>
<path d="M1381.2 191.4 H1384.2" stroke="#222" stroke-width="1"/>
<path d="M1430.0 457.7 v5.5" stroke="#222" stroke-width="1"/>
<path d="M1520.7 457.7 v5.5" stroke="#222" stroke-width="1"/>
<path d="M1611.4 457.7 v5.5" stroke="#222" stroke-width="1"/>
<path d="M1702.1 457.7 v5.5" stroke="#222" stroke-width="1"/>
<path d="M1384.2 457.7 v3" stroke="#222" stroke-width="1"/>
<path d="M1475.3 457.7 v3" stroke="#222" stroke-width="1"/>
<path d="M1566.0 457.7 v3" stroke="#222" stroke-width="1"/>
<path d="M1656.8 457.7 v3" stroke="#222" stroke-width="1"/>
<path d="M1747.6 457.7 v3" stroke="#222" stroke-width="1"/>
<text transform="translate(1428.2,491.4) rotate(-15.5)" font-size="16.6" text-anchor="middle" fill="#222">Linnemannia +</text>
<text transform="translate(1518.9,491.4) rotate(-15.5)" font-size="16.6" text-anchor="middle" fill="#222">Linnemannia -</text>
<text transform="translate(1609.6,491.4) rotate(-15.5)" font-size="16.6" text-anchor="middle" fill="#222">Benniella +</text>
<text transform="translate(1700.3,491.4) rotate(-15.5)" font-size="16.6" text-anchor="middle" fill="#222">Benniella -</text>
<text x="1566.2" y="519.7" font-size="17.6" text-anchor="middle" fill="#111">Fungi</text>
<text transform="translate(1353,311) rotate(-90)" font-size="17.6" text-anchor="middle" fill="#111">MIC (mM)</text>
<rect x="1548.4" y="167.2" width="199.2" height="80.5" fill="#fff" stroke="#222" stroke-width="1.1"/>
<rect x="1550.5" y="171.4" width="42.3" height="21" fill="#ee5b5b" stroke="#2a1f14" stroke-width="1"/>
<text transform="translate(1599.7,188.0) scale(0.92,1.04)" font-size="20" fill="#111">Cu</text>
<text x="1628.3" y="181.0" font-size="12.6" fill="#111">2+</text>
<rect x="1550.5" y="198.3" width="42.3" height="21" fill="#7cc97c" stroke="#2a1f14" stroke-width="1"/>
<text transform="translate(1599.7,214.9) scale(0.92,1.04)" font-size="20" fill="#111">Pb</text>
<text x="1627.5" y="207.9" font-size="12.6" fill="#111">2+</text>
<rect x="1550.5" y="223.5" width="42.3" height="21" fill="#fda844" stroke="#2a1f14" stroke-width="1"/>
<text transform="translate(1599.7,240.1) scale(0.92,1.04)" font-size="20" fill="#111">Fe</text>
<text x="1626.5" y="233.1" font-size="12.6" fill="#111">2+</text>
<rect x="1650.3" y="171.4" width="42.3" height="21" fill="#5f9bd3" stroke="#2a1f14" stroke-width="1"/>
<text transform="translate(1697.3,188.0) scale(0.92,1.04)" font-size="20" fill="#111">Cr</text>
<text x="1723.9" y="181.0" font-size="12.6" fill="#111">6+</text>
<rect x="1650.3" y="198.3" width="42.3" height="21" fill="#bb7fc8" stroke="#2a1f14" stroke-width="1"/>
<text transform="translate(1697.3,214.9) scale(0.92,1.04)" font-size="20" fill="#111">Ca</text>
<text x="1727.5" y="207.9" font-size="12.6" fill="#111">2+</text>
<rect x="1650.3" y="223.5" width="42.3" height="21" fill="#d78958" stroke="#2a1f14" stroke-width="1"/>
<text transform="translate(1697.3,240.1) scale(0.92,1.04)" font-size="20" fill="#111">Mn</text>
<text x="1729.5" y="233.1" font-size="12.6" fill="#111">2+</text>
</g>
<g font-family="Liberation Sans" filter="url(#blur04)">
<rect x="1300.8" y="655.3" width="455.9" height="237.4" fill="#fff" stroke="#444" stroke-width="1.1"/>
<polyline fill="none" stroke="#000000" stroke-width="2.0" stroke-linejoin="round" points="1300.8,778.0 1302.3,777.9 1303.8,778.0 1305.3,777.9 1306.8,778.0 1308.3,778.0 1309.8,777.9 1311.3,778.0 1312.8,777.9 1314.3,778.0 1315.8,777.9 1317.3,777.9 1318.8,778.0 1320.3,778.1 1321.8,777.9 1323.3,777.9 1324.8,778.0 1326.3,778.1 1327.8,778.0 1329.3,778.0 1330.8,778.1 1332.3,777.9 1333.8,778.1 1335.3,777.9 1336.8,777.9 1338.3,777.9 1339.8,777.9 1341.3,778.1 1342.8,777.9 1344.3,778.0 1345.8,778.0 1347.3,778.0 1348.8,778.0 1350.3,777.9 1351.8,777.9 1353.3,777.9 1354.8,778.0 1356.3,777.9 1357.8,777.9 1359.3,778.0 1360.8,777.9 1362.3,777.8 1363.8,777.9 1365.3,777.9 1366.8,777.8 1368.3,777.8 1369.8,777.8 1371.3,777.8 1372.8,777.7 1374.3,777.5 1375.8,777.6 1377.3,777.3 1378.8,777.3 1380.3,777.3 1381.8,777.1 1383.3,777.0 1384.8,776.8 1386.3,776.8 1387.8,776.7 1389.3,776.5 1390.8,776.4 1392.3,776.1 1393.8,776.0 1395.3,775.7 1396.8,775.5 1398.3,775.3 1399.8,775.1 1401.3,775.0 1402.8,774.6 1404.3,774.4 1405.8,774.1 1407.3,774.0 1408.8,773.8 1410.3,773.7 1411.8,773.5 1413.3,773.2 1414.8,773.0 1416.3,773.0 1417.8,772.7 1419.3,772.7 1420.8,772.6 1422.3,772.5 1423.8,772.5 1425.3,772.7 1426.8,772.6 1428.3,772.6 1429.8,772.8 1431.3,773.0 1432.8,772.9 1434.3,773.2 1435.8,773.3 1437.3,773.6 1438.8,773.8 1440.3,774.0 1441.8,774.1 1443.3,774.3 1444.8,774.5 1446.3,774.9 1447.8,775.1 1449.3,775.1 1450.8,775.4 1452.3,775.6 1453.8,775.8 1455.3,776.0 1456.8,776.3 1458.3,776.4 1459.8,776.5 1461.3,776.7 1462.8,776.8 1464.3,777.0 1465.8,777.2 1467.3,777.3 1468.8,777.3 1470.3,777.4 1471.8,777.5 1473.3,777.5 1474.8,777.7 1476.3,777.8 1477.8,777.8 1479.3,777.8 1480.8,777.8 1482.3,777.8 1483.8,777.8 1485.3,777.9 1486.8,777.8 1488.3,777.8 1489.8,777.9 1491.3,777.8 1492.8,777.9 1494.3,777.8 1495.8,777.7 1497.3,777.6 1498.8,777.7 1500.3,777.9 1501.8,777.8 1503.3,778.1 1504.8,778.0 1506.3,777.9 1507.8,777.9 1509.3,777.9 1510.8,777.8 1512.3,777.8 1513.8,778.0 1515.3,778.1 1516.8,778.0 1518.3,778.0 1519.8,777.9 1521.3,777.9 1522.8,778.0 1524.3,777.9 1525.8,778.1 1527.3,777.9 1528.8,777.9"/>
<polyline fill="none" stroke="#000000" stroke-width="2.0" stroke-linejoin="round" points="1536.6,778.2 1537.8,778.0 1539.0,777.8 1540.2,778.0 1541.4,777.7 1542.6,778.0 1543.8,778.2 1545.0,778.1 1546.2,777.9 1547.4,777.7 1548.6,777.6 1549.8,777.4 1551.0,777.6 1552.2,777.3 1553.4,777.2 1554.6,776.7 1555.8,776.3 1557.0,776.2 1558.2,775.7 1559.4,775.0 1560.6,774.1 1561.8,773.3 1563.0,772.4 1564.2,771.5 1565.4,771.2 1566.6,771.1 1567.8,771.2 1569.0,771.9 1570.2,772.9 1571.4,773.9 1572.6,775.1 1573.8,776.0 1575.0,776.3 1576.2,776.8 1577.4,776.9 1578.6,776.6 1579.8,775.9 1581.0,775.4 1582.2,775.0 1583.4,774.8 1584.6,774.9 1585.8,775.5 1587.0,776.2 1588.2,776.7 1589.4,777.1 1590.6,777.6 1591.8,778.1 1593.0,778.0 1594.2,778.5 1595.4,778.6 1596.6,778.5 1597.8,778.4 1599.0,778.2 1600.2,777.9 1601.4,778.2 1602.6,777.9 1603.8,778.2 1605.0,778.2 1606.2,777.9 1607.4,777.9 1608.6,778.2 1609.8,778.1 1611.0,777.8 1612.2,777.8 1613.4,777.8 1614.6,778.2 1615.8,778.2 1617.0,777.8 1618.2,778.2 1619.4,778.2 1620.6,778.1 1621.8,777.9 1623.0,778.0 1624.2,777.8 1625.4,777.8 1626.6,778.2 1627.8,778.1 1629.0,778.0 1630.2,778.2 1631.4,778.0 1632.6,778.2 1633.8,778.2 1635.0,777.8 1636.2,777.9 1637.4,777.9 1638.6,777.9 1639.8,778.0 1641.0,777.9 1642.2,777.9 1643.4,777.8 1644.6,778.2 1645.8,777.9 1647.0,777.9 1648.2,777.9 1649.4,778.0 1650.6,777.7 1651.8,777.8 1653.0,777.3 1654.2,776.8 1655.4,775.8 1656.6,775.5 1657.8,775.9 1659.0,775.6 1660.2,775.1 1661.4,775.0 1662.6,774.1 1663.8,773.7 1665.0,773.3 1666.2,772.7 1667.4,771.9 1668.6,771.2 1669.8,771.4 1671.0,771.6 1672.2,770.9 1673.4,770.4 1674.6,769.4 1675.8,768.6 1677.0,768.6 1678.2,765.5 1679.4,766.3 1680.6,767.9 1681.8,769.8 1683.0,771.5 1684.2,773.4 1685.4,774.9 1686.6,776.1 1687.8,777.0 1689.0,777.4 1690.2,777.7 1691.4,777.8 1692.6,778.1 1693.8,778.1 1695.0,778.2 1696.2,778.2 1697.4,777.9 1698.6,778.0 1699.8,778.2 1701.0,778.2 1702.2,777.8 1703.4,777.8 1704.6,778.0 1705.8,777.8 1707.0,777.9 1708.2,777.8 1709.4,778.1 1710.6,778.1 1711.8,778.2 1713.0,777.7 1714.2,777.8 1715.4,777.6 1716.6,777.2 1717.8,777.5 1719.0,777.3 1720.2,776.8 1721.4,777.0 1722.6,776.6 1723.8,776.5 1725.0,776.6 1726.2,776.4 1727.4,775.9 1728.6,775.9 1729.8,775.8 1731.0,775.5 1732.2,775.3 1733.4,775.2 1734.6,775.2 1735.8,774.7 1737.0,774.9 1738.2,774.7 1739.4,774.3 1740.6,774.3 1741.8,774.3"/>
<polyline fill="none" stroke="#7a7a7a" stroke-width="1.0" stroke-linejoin="round" points="1300.8,792.2 1302.3,792.1 1303.8,792.3 1305.3,792.3 1306.8,792.3 1308.3,792.1 1309.8,792.2 1311.3,792.1 1312.8,792.3 1314.3,792.2 1315.8,792.1 1317.3,792.2 1318.8,792.3 1320.3,792.3 1321.8,792.2 1323.3,792.1 1324.8,792.3 1326.3,792.2 1327.8,792.2 1329.3,792.1 1330.8,792.1 1332.3,792.2 1333.8,792.2 1335.3,792.1 1336.8,792.3 1338.3,792.2 1339.8,792.3 1341.3,792.1 1342.8,792.3 1344.3,792.1 1345.8,792.3 1347.3,792.2 1348.8,792.1 1350.3,792.2 1351.8,792.3 1353.3,792.1 1354.8,792.1 1356.3,792.1 1357.8,792.1 1359.3,792.0 1360.8,792.0 1362.3,792.0 1363.8,792.0 1365.3,792.0 1366.8,791.9 1368.3,792.0 1369.8,791.8 1371.3,791.8 1372.8,791.6 1374.3,791.6 1375.8,791.4 1377.3,791.4 1378.8,791.2 1380.3,791.2 1381.8,791.0 1383.3,790.8 1384.8,790.7 1386.3,790.6 1387.8,790.2 1389.3,790.1 1390.8,789.8 1392.3,789.5 1393.8,789.3 1395.3,789.0 1396.8,788.7 1398.3,788.4 1399.8,788.2 1401.3,787.7 1402.8,787.5 1404.3,787.2 1405.8,786.8 1407.3,786.5 1408.8,786.2 1410.3,785.9 1411.8,785.6 1413.3,785.4 1414.8,785.3 1416.3,785.0 1417.8,784.8 1419.3,784.7 1420.8,784.7 1422.3,784.7 1423.8,784.6 1425.3,784.6 1426.8,784.6 1428.3,784.7 1429.8,784.9 1431.3,784.9 1432.8,785.2 1434.3,785.3 1435.8,785.7 1437.3,786.0 1438.8,786.2 1440.3,786.4 1441.8,786.8 1443.3,787.0 1444.8,787.3 1446.3,787.6 1447.8,788.0 1449.3,788.3 1450.8,788.6 1452.3,788.8 1453.8,789.2 1455.3,789.4 1456.8,789.7 1458.3,789.9 1459.8,790.2 1461.3,790.3 1462.8,790.5 1464.3,790.8 1465.8,790.9 1467.3,791.1 1468.8,791.3 1470.3,791.4 1471.8,791.5 1473.3,791.6 1474.8,791.7 1476.3,791.7 1477.8,791.8 1479.3,792.0 1480.8,791.8 1482.3,792.0 1483.8,792.0 1485.3,791.9 1486.8,792.1 1488.3,792.1 1489.8,792.0 1491.3,792.0 1492.8,792.0 1494.3,791.6 1495.8,791.0 1497.3,790.2 1498.8,791.3 1500.3,791.8 1501.8,792.0 1503.3,792.0 1504.8,792.1 1506.3,792.1 1507.8,792.0 1509.3,791.7 1510.8,791.2 1512.3,791.4 1513.8,791.9 1515.3,792.0 1516.8,792.2 1518.3,792.1 1519.8,792.2 1521.3,792.2 1522.8,792.2 1524.3,792.2 1525.8,792.1 1527.3,792.2 1528.8,792.2"/>
<polyline fill="none" stroke="#7a7a7a" stroke-width="1.0" stroke-linejoin="round" points="1536.6,790.6 1537.8,790.6 1539.0,790.6 1540.2,790.4 1541.4,790.6 1542.6,790.4 1543.8,790.2 1545.0,790.1 1546.2,789.9 1547.4,789.6 1548.6,790.1 1549.8,790.3 1551.0,790.0 1552.2,789.9 1553.4,789.8 1554.6,789.7 1555.8,789.4 1557.0,789.0 1558.2,788.6 1559.4,787.8 1560.6,787.2 1561.8,786.6 1563.0,786.1 1564.2,785.4 1565.4,785.1 1566.6,784.9 1567.8,785.2 1569.0,785.8 1570.2,786.7 1571.4,787.5 1572.6,788.3 1573.8,788.8 1575.0,789.3 1576.2,789.6 1577.4,789.7 1578.6,789.4 1579.8,789.5 1581.0,789.0 1582.2,789.1 1583.4,789.0 1584.6,788.7 1585.8,789.0 1587.0,789.5 1588.2,790.0 1589.4,790.2 1590.6,790.5 1591.8,790.9 1593.0,791.6 1594.2,791.6 1595.4,791.8 1596.6,791.5 1597.8,791.3 1599.0,791.2 1600.2,790.7 1601.4,790.8 1602.6,790.6 1603.8,790.8 1605.0,790.7 1606.2,790.5 1607.4,790.8 1608.6,790.6 1609.8,790.4 1611.0,790.4 1612.2,790.6 1613.4,790.6 1614.6,790.5 1615.8,790.5 1617.0,790.5 1618.2,790.5 1619.4,790.7 1620.6,790.4 1621.8,790.7 1623.0,790.7 1624.2,790.4 1625.4,790.8 1626.6,790.7 1627.8,790.8 1629.0,790.5 1630.2,790.5 1631.4,790.6 1632.6,790.8 1633.8,790.6 1635.0,790.5 1636.2,790.6 1637.4,790.5 1638.6,790.4 1639.8,790.4 1641.0,790.7 1642.2,790.5 1643.4,790.7 1644.6,790.5 1645.8,790.5 1647.0,790.5 1648.2,790.4 1649.4,790.4 1650.6,790.5 1651.8,790.3 1653.0,790.0 1654.2,789.4 1655.4,788.6 1656.6,788.5 1657.8,788.6 1659.0,788.5 1660.2,787.8 1661.4,787.5 1662.6,786.9 1663.8,786.5 1665.0,785.9 1666.2,785.4 1667.4,784.9 1668.6,784.8 1669.8,784.4 1671.0,784.3 1672.2,783.7 1673.4,782.9 1674.6,782.2 1675.8,781.5 1677.0,780.9 1678.2,778.1 1679.4,778.7 1680.6,780.3 1681.8,782.1 1683.0,784.0 1684.2,785.8 1685.4,787.4 1686.6,788.8 1687.8,789.5 1689.0,789.9 1690.2,790.4 1691.4,790.6 1692.6,790.5 1693.8,790.4 1695.0,790.5 1696.2,790.4 1697.4,790.5 1698.6,790.4 1699.8,790.5 1701.0,790.5 1702.2,790.6 1703.4,790.8 1704.6,790.7 1705.8,790.6 1707.0,790.6 1708.2,790.6 1709.4,790.5 1710.6,790.5 1711.8,790.4 1713.0,790.5 1714.2,790.7 1715.4,790.3 1716.6,790.4 1717.8,790.5 1719.0,790.5 1720.2,790.2 1721.4,790.2 1722.6,790.1 1723.8,790.2 1725.0,790.1 1726.2,790.3 1727.4,790.2 1728.6,790.2 1729.8,789.8 1731.0,789.8 1732.2,790.0 1733.4,790.0 1734.6,789.8 1735.8,789.8 1737.0,789.6 1738.2,789.7 1739.4,789.9 1740.6,789.8 1741.8,789.7"/>
<polyline fill="none" stroke="#e0413c" stroke-width="1.0" stroke-linejoin="round" points="1300.8,804.9 1302.3,804.7 1303.8,804.7 1305.3,804.7 1306.8,804.8 1308.3,804.9 1309.8,804.9 1311.3,804.9 1312.8,804.8 1314.3,804.9 1315.8,804.8 1317.3,804.8 1318.8,804.7 1320.3,804.9 1321.8,804.7 1323.3,804.9 1324.8,804.8 1326.3,804.7 1327.8,804.7 1329.3,804.7 1330.8,804.8 1332.3,804.9 1333.8,804.7 1335.3,804.7 1336.8,804.8 1338.3,804.8 1339.8,804.8 1341.3,804.7 1342.8,804.8 1344.3,804.6 1345.8,804.7 1347.3,804.8 1348.8,804.9 1350.3,804.8 1351.8,804.9 1353.3,804.8 1354.8,804.7 1356.3,804.7 1357.8,804.9 1359.3,804.8 1360.8,804.6 1362.3,804.5 1363.8,804.7 1365.3,804.7 1366.8,804.6 1368.3,804.5 1369.8,804.6 1371.3,804.6 1372.8,804.3 1374.3,804.2 1375.8,804.2 1377.3,804.2 1378.8,804.1 1380.3,803.9 1381.8,803.9 1383.3,803.8 1384.8,803.6 1386.3,803.3 1387.8,803.4 1389.3,803.0 1390.8,803.0 1392.3,802.6 1393.8,802.4 1395.3,802.3 1396.8,802.0 1398.3,801.9 1399.8,801.5 1401.3,801.2 1402.8,801.0 1404.3,800.8 1405.8,800.6 1407.3,800.4 1408.8,800.0 1410.3,799.8 1411.8,799.6 1413.3,799.6 1414.8,799.2 1416.3,799.0 1417.8,798.9 1419.3,798.9 1420.8,799.0 1422.3,798.9 1423.8,798.9 1425.3,799.0 1426.8,799.0 1428.3,798.9 1429.8,798.9 1431.3,799.3 1432.8,799.3 1434.3,799.3 1435.8,799.7 1437.3,799.8 1438.8,800.0 1440.3,800.2 1441.8,800.4 1443.3,800.6 1444.8,800.9 1446.3,801.2 1447.8,801.6 1449.3,801.6 1450.8,802.1 1452.3,802.1 1453.8,802.4 1455.3,802.7 1456.8,802.9 1458.3,803.0 1459.8,803.1 1461.3,803.4 1462.8,803.5 1464.3,803.8 1465.8,803.7 1467.3,803.9 1468.8,804.2 1470.3,804.0 1471.8,804.2 1473.3,804.4 1474.8,804.5 1476.3,804.3 1477.8,804.3 1479.3,804.4 1480.8,804.7 1482.3,804.5 1483.8,804.7 1485.3,804.7 1486.8,804.6 1488.3,804.6 1489.8,804.7 1491.3,804.6 1492.8,804.3 1494.3,804.1 1495.8,803.0 1497.3,801.9 1498.8,803.3 1500.3,804.3 1501.8,804.6 1503.3,804.6 1504.8,804.7 1506.3,804.4 1507.8,804.3 1509.3,804.0 1510.8,803.1 1512.3,803.5 1513.8,804.2 1515.3,804.4 1516.8,804.6 1518.3,804.7 1519.8,804.8 1521.3,804.6 1522.8,804.8 1524.3,804.8 1525.8,804.9 1527.3,804.9 1528.8,804.8"/>
<polyline fill="none" stroke="#e0413c" stroke-width="1.0" stroke-linejoin="round" points="1536.6,804.7 1537.8,804.6 1539.0,804.7 1540.2,804.9 1541.4,804.4 1542.6,804.4 1543.8,804.6 1545.0,804.0 1546.2,803.3 1547.4,803.1 1548.6,803.9 1549.8,803.9 1551.0,804.2 1552.2,804.0 1553.4,803.8 1554.6,803.0 1555.8,802.5 1557.0,801.9 1558.2,801.5 1559.4,800.7 1560.6,799.5 1561.8,798.3 1563.0,797.3 1564.2,796.5 1565.4,796.0 1566.6,796.0 1567.8,796.5 1569.0,797.2 1570.2,798.1 1571.4,799.8 1572.6,800.7 1573.8,801.9 1575.0,802.6 1576.2,803.1 1577.4,802.8 1578.6,802.5 1579.8,801.9 1581.0,801.3 1582.2,801.2 1583.4,800.8 1584.6,800.8 1585.8,801.3 1587.0,802.4 1588.2,802.9 1589.4,803.5 1590.6,804.5 1591.8,805.1 1593.0,805.8 1594.2,805.6 1595.4,805.9 1596.6,806.0 1597.8,805.7 1599.0,805.5 1600.2,804.7 1601.4,804.8 1602.6,804.6 1603.8,804.6 1605.0,805.1 1606.2,804.8 1607.4,805.1 1608.6,804.7 1609.8,805.0 1611.0,804.8 1612.2,804.7 1613.4,805.0 1614.6,805.1 1615.8,804.6 1617.0,804.9 1618.2,804.9 1619.4,804.6 1620.6,804.7 1621.8,804.6 1623.0,804.6 1624.2,804.6 1625.4,804.9 1626.6,804.9 1627.8,804.6 1629.0,804.5 1630.2,804.7 1631.4,804.9 1632.6,804.6 1633.8,804.7 1635.0,804.6 1636.2,805.0 1637.4,804.8 1638.6,804.5 1639.8,804.5 1641.0,804.7 1642.2,804.8 1643.4,804.8 1644.6,804.5 1645.8,804.5 1647.0,804.8 1648.2,804.6 1649.4,804.5 1650.6,804.4 1651.8,804.6 1653.0,803.9 1654.2,803.4 1655.4,802.3 1656.6,802.2 1657.8,802.7 1659.0,802.6 1660.2,801.8 1661.4,801.1 1662.6,800.8 1663.8,799.8 1665.0,799.1 1666.2,799.1 1667.4,798.1 1668.6,797.4 1669.8,797.3 1671.0,797.7 1672.2,797.1 1673.4,796.1 1674.6,795.0 1675.8,794.5 1677.0,794.2 1678.2,791.1 1679.4,791.4 1680.6,793.4 1681.8,795.3 1683.0,797.6 1684.2,799.4 1685.4,801.2 1686.6,802.7 1687.8,803.8 1689.0,803.9 1690.2,804.4 1691.4,804.8 1692.6,805.0 1693.8,804.6 1695.0,804.6 1696.2,805.1 1697.4,805.1 1698.6,804.8 1699.8,804.5 1701.0,805.1 1702.2,804.7 1703.4,805.0 1704.6,804.9 1705.8,805.0 1707.0,804.6 1708.2,805.0 1709.4,804.6 1710.6,804.7 1711.8,805.0 1713.0,805.0 1714.2,804.6 1715.4,804.6 1716.6,804.7 1717.8,804.8 1719.0,804.7 1720.2,804.6 1721.4,804.6 1722.6,804.9 1723.8,805.0 1725.0,804.5 1726.2,804.8 1727.4,805.0 1728.6,804.5 1729.8,805.0 1731.0,804.6 1732.2,804.9 1733.4,804.8 1734.6,804.9 1735.8,804.7 1737.0,804.8 1738.2,804.8 1739.4,804.8 1740.6,804.9 1741.8,804.8"/>
<polyline fill="none" stroke="#e87b74" stroke-width="0.9" stroke-linejoin="round" points="1300.8,819.0 1302.3,818.9 1303.8,819.0 1305.3,819.0 1306.8,818.9 1308.3,819.1 1309.8,819.1 1311.3,819.0 1312.8,818.9 1314.3,819.0 1315.8,818.9 1317.3,818.9 1318.8,819.0 1320.3,818.9 1321.8,819.0 1323.3,819.0 1324.8,818.9 1326.3,819.0 1327.8,818.9 1329.3,819.0 1330.8,819.1 1332.3,819.0 1333.8,818.9 1335.3,819.0 1336.8,819.0 1338.3,819.1 1339.8,818.9 1341.3,819.1 1342.8,819.1 1344.3,819.0 1345.8,819.1 1347.3,818.9 1348.8,819.1 1350.3,819.0 1351.8,819.1 1353.3,819.1 1354.8,818.9 1356.3,819.0 1357.8,819.0 1359.3,818.8 1360.8,818.9 1362.3,818.9 1363.8,818.8 1365.3,818.9 1366.8,818.8 1368.3,818.8 1369.8,818.7 1371.3,818.7 1372.8,818.7 1374.3,818.5 1375.8,818.4 1377.3,818.4 1378.8,818.3 1380.3,818.1 1381.8,818.0 1383.3,817.9 1384.8,817.9 1386.3,817.7 1387.8,817.6 1389.3,817.3 1390.8,817.2 1392.3,816.9 1393.8,816.8 1395.3,816.6 1396.8,816.3 1398.3,816.2 1399.8,815.9 1401.3,815.7 1402.8,815.5 1404.3,815.1 1405.8,815.1 1407.3,814.8 1408.8,814.5 1410.3,814.4 1411.8,814.1 1413.3,814.0 1414.8,813.8 1416.3,813.6 1417.8,813.6 1419.3,813.4 1420.8,813.3 1422.3,813.4 1423.8,813.2 1425.3,813.4 1426.8,813.3 1428.3,813.4 1429.8,813.6 1431.3,813.6 1432.8,813.8 1434.3,813.9 1435.8,814.0 1437.3,814.2 1438.8,814.4 1440.3,814.7 1441.8,814.9 1443.3,815.1 1444.8,815.4 1446.3,815.5 1447.8,815.8 1449.3,816.1 1450.8,816.2 1452.3,816.4 1453.8,816.7 1455.3,816.9 1456.8,817.1 1458.3,817.3 1459.8,817.5 1461.3,817.7 1462.8,817.7 1464.3,818.0 1465.8,818.1 1467.3,818.1 1468.8,818.4 1470.3,818.3 1471.8,818.4 1473.3,818.4 1474.8,818.6 1476.3,818.7 1477.8,818.7 1479.3,818.7 1480.8,818.7 1482.3,818.7 1483.8,818.8 1485.3,818.8 1486.8,818.8 1488.3,818.8 1489.8,818.7 1491.3,818.7 1492.8,818.5 1494.3,817.9 1495.8,816.5 1497.3,814.7 1498.8,817.0 1500.3,818.1 1501.8,818.5 1503.3,818.6 1504.8,818.8 1506.3,818.6 1507.8,818.6 1509.3,818.3 1510.8,817.2 1512.3,817.6 1513.8,818.5 1515.3,818.7 1516.8,818.9 1518.3,818.9 1519.8,818.9 1521.3,818.9 1522.8,818.9 1524.3,818.9 1525.8,819.0 1527.3,819.0 1528.8,819.0"/>
<polyline fill="none" stroke="#e87b74" stroke-width="0.9" stroke-linejoin="round" points="1536.6,818.4 1537.8,818.7 1539.0,818.6 1540.2,818.5 1541.4,818.6 1542.6,818.4 1543.8,818.2 1545.0,817.9 1546.2,817.4 1547.4,817.1 1548.6,817.7 1549.8,818.0 1551.0,818.0 1552.2,818.0 1553.4,817.8 1554.6,817.4 1555.8,817.2 1557.0,816.8 1558.2,816.4 1559.4,815.7 1560.6,814.9 1561.8,814.3 1563.0,813.6 1564.2,812.7 1565.4,812.6 1566.6,812.2 1567.8,812.6 1569.0,813.2 1570.2,814.2 1571.4,815.2 1572.6,816.0 1573.8,816.6 1575.0,817.3 1576.2,817.4 1577.4,817.4 1578.6,817.5 1579.8,817.1 1581.0,816.8 1582.2,816.6 1583.4,816.6 1584.6,816.4 1585.8,816.9 1587.0,817.2 1588.2,817.7 1589.4,818.0 1590.6,818.6 1591.8,819.0 1593.0,819.3 1594.2,819.6 1595.4,819.8 1596.6,819.4 1597.8,819.5 1599.0,818.9 1600.2,818.6 1601.4,818.5 1602.6,818.8 1603.8,818.5 1605.0,818.5 1606.2,818.4 1607.4,818.4 1608.6,818.7 1609.8,818.7 1611.0,818.7 1612.2,818.7 1613.4,818.4 1614.6,818.6 1615.8,818.5 1617.0,818.7 1618.2,818.7 1619.4,818.8 1620.6,818.4 1621.8,818.7 1623.0,818.8 1624.2,818.8 1625.4,818.4 1626.6,818.5 1627.8,818.4 1629.0,818.4 1630.2,818.7 1631.4,818.7 1632.6,818.6 1633.8,818.7 1635.0,818.6 1636.2,818.5 1637.4,818.4 1638.6,818.4 1639.8,818.7 1641.0,818.5 1642.2,818.5 1643.4,818.5 1644.6,818.4 1645.8,818.4 1647.0,818.4 1648.2,818.6 1649.4,818.4 1650.6,818.2 1651.8,818.3 1653.0,817.8 1654.2,817.4 1655.4,816.3 1656.6,816.0 1657.8,816.4 1659.0,816.2 1660.2,815.9 1661.4,815.2 1662.6,814.8 1663.8,814.1 1665.0,813.4 1666.2,813.1 1667.4,812.1 1668.6,811.6 1669.8,811.5 1671.0,811.5 1672.2,811.2 1673.4,810.7 1674.6,809.8 1675.8,808.6 1677.0,808.5 1678.2,805.4 1679.4,806.4 1680.6,807.6 1681.8,809.7 1683.0,811.7 1684.2,813.9 1685.4,815.2 1686.6,816.7 1687.8,817.3 1689.0,817.8 1690.2,818.3 1691.4,818.4 1692.6,818.4 1693.8,818.6 1695.0,818.4 1696.2,818.7 1697.4,818.7 1698.6,818.7 1699.8,818.6 1701.0,818.5 1702.2,818.6 1703.4,818.6 1704.6,818.8 1705.8,818.4 1707.0,818.8 1708.2,818.4 1709.4,818.5 1710.6,818.5 1711.8,818.8 1713.0,818.6 1714.2,818.5 1715.4,818.8 1716.6,818.5 1717.8,818.6 1719.0,818.6 1720.2,818.7 1721.4,818.7 1722.6,818.7 1723.8,818.5 1725.0,818.5 1726.2,818.5 1727.4,818.7 1728.6,818.7 1729.8,818.7 1731.0,818.5 1732.2,818.6 1733.4,818.7 1734.6,818.6 1735.8,818.4 1737.0,818.6 1738.2,818.8 1739.4,818.5 1740.6,818.5 1741.8,818.5"/>
<polyline fill="none" stroke="#7b4fc9" stroke-width="1.0" stroke-linejoin="round" points="1300.8,832.7 1302.3,832.8 1303.8,832.6 1305.3,832.6 1306.8,832.6 1308.3,832.7 1309.8,832.7 1311.3,832.6 1312.8,832.7 1314.3,832.6 1315.8,832.8 1317.3,832.7 1318.8,832.6 1320.3,832.8 1321.8,832.6 1323.3,832.7 1324.8,832.8 1326.3,832.8 1327.8,832.7 1329.3,832.7 1330.8,832.6 1332.3,832.7 1333.8,832.6 1335.3,832.6 1336.8,832.7 1338.3,832.6 1339.8,832.7 1341.3,832.8 1342.8,832.7 1344.3,832.7 1345.8,832.7 1347.3,832.7 1348.8,832.6 1350.3,832.7 1351.8,832.6 1353.3,832.7 1354.8,832.7 1356.3,832.6 1357.8,832.6 1359.3,832.7 1360.8,832.6 1362.3,832.5 1363.8,832.6 1365.3,832.6 1366.8,832.5 1368.3,832.4 1369.8,832.4 1371.3,832.3 1372.8,832.2 1374.3,832.1 1375.8,832.0 1377.3,832.0 1378.8,831.7 1380.3,831.7 1381.8,831.6 1383.3,831.4 1384.8,831.2 1386.3,831.0 1387.8,830.8 1389.3,830.6 1390.8,830.4 1392.3,830.1 1393.8,829.9 1395.3,829.6 1396.8,829.2 1398.3,829.0 1399.8,828.7 1401.3,828.3 1402.8,828.1 1404.3,827.9 1405.8,827.4 1407.3,827.2 1408.8,826.8 1410.3,826.7 1411.8,826.4 1413.3,826.1 1414.8,825.8 1416.3,825.8 1417.8,825.6 1419.3,825.5 1420.8,825.4 1422.3,825.3 1423.8,825.4 1425.3,825.3 1426.8,825.3 1428.3,825.5 1429.8,825.5 1431.3,825.7 1432.8,825.8 1434.3,826.1 1435.8,826.2 1437.3,826.6 1438.8,826.8 1440.3,827.0 1441.8,827.3 1443.3,827.7 1444.8,827.9 1446.3,828.3 1447.8,828.6 1449.3,828.9 1450.8,829.2 1452.3,829.4 1453.8,829.7 1455.3,830.1 1456.8,830.4 1458.3,830.5 1459.8,830.7 1461.3,831.0 1462.8,831.1 1464.3,831.3 1465.8,831.4 1467.3,831.7 1468.8,831.8 1470.3,831.9 1471.8,832.0 1473.3,832.1 1474.8,832.1 1476.3,832.3 1477.8,832.3 1479.3,832.4 1480.8,832.5 1482.3,832.5 1483.8,832.5 1485.3,832.5 1486.8,832.5 1488.3,832.4 1489.8,832.5 1491.3,832.4 1492.8,832.3 1494.3,831.9 1495.8,830.8 1497.3,829.6 1498.8,831.2 1500.3,832.0 1501.8,832.2 1503.3,832.5 1504.8,832.4 1506.3,832.4 1507.8,832.3 1509.3,832.1 1510.8,831.3 1512.3,831.6 1513.8,832.3 1515.3,832.4 1516.8,832.6 1518.3,832.7 1519.8,832.5 1521.3,832.7 1522.8,832.7 1524.3,832.7 1525.8,832.6 1527.3,832.7 1528.8,832.7"/>
<polyline fill="none" stroke="#7b4fc9" stroke-width="1.0" stroke-linejoin="round" points="1536.6,832.2 1537.8,832.2 1539.0,832.5 1540.2,832.4 1541.4,832.2 1542.6,832.1 1543.8,832.0 1545.0,831.7 1546.2,831.5 1547.4,831.1 1548.6,831.4 1549.8,831.8 1551.0,831.6 1552.2,831.2 1553.4,831.2 1554.6,830.7 1555.8,830.3 1557.0,829.7 1558.2,829.0 1559.4,828.0 1560.6,827.0 1561.8,825.5 1563.0,824.6 1564.2,823.6 1565.4,823.1 1566.6,822.8 1567.8,823.5 1569.0,824.3 1570.2,825.4 1571.4,826.8 1572.6,828.1 1573.8,829.3 1575.0,829.9 1576.2,830.4 1577.4,830.3 1578.6,830.0 1579.8,829.4 1581.0,828.7 1582.2,828.3 1583.4,827.7 1584.6,828.2 1585.8,828.5 1587.0,829.4 1588.2,830.3 1589.4,831.2 1590.6,831.8 1591.8,832.5 1593.0,833.3 1594.2,833.3 1595.4,833.6 1596.6,833.5 1597.8,832.9 1599.0,832.9 1600.2,832.7 1601.4,832.7 1602.6,832.4 1603.8,832.6 1605.0,832.4 1606.2,832.4 1607.4,832.6 1608.6,832.2 1609.8,832.5 1611.0,832.4 1612.2,832.3 1613.4,832.5 1614.6,832.3 1615.8,832.4 1617.0,832.4 1618.2,832.5 1619.4,832.3 1620.6,832.4 1621.8,832.4 1623.0,832.4 1624.2,832.5 1625.4,832.3 1626.6,832.5 1627.8,832.4 1629.0,832.4 1630.2,832.3 1631.4,832.4 1632.6,832.6 1633.8,832.5 1635.0,832.5 1636.2,832.3 1637.4,832.3 1638.6,832.3 1639.8,832.4 1641.0,832.4 1642.2,832.5 1643.4,832.2 1644.6,832.4 1645.8,832.5 1647.0,832.3 1648.2,832.1 1649.4,832.1 1650.6,831.9 1651.8,831.8 1653.0,831.8 1654.2,831.1 1655.4,830.2 1656.6,830.1 1657.8,830.4 1659.0,830.1 1660.2,829.7 1661.4,829.2 1662.6,828.6 1663.8,828.0 1665.0,827.5 1666.2,826.9 1667.4,826.6 1668.6,826.2 1669.8,826.1 1671.0,825.7 1672.2,825.1 1673.4,824.3 1674.6,823.6 1675.8,822.8 1677.0,822.4 1678.2,819.2 1679.4,820.2 1680.6,821.7 1681.8,823.5 1683.0,825.5 1684.2,827.5 1685.4,829.1 1686.6,830.3 1687.8,831.2 1689.0,831.8 1690.2,832.2 1691.4,832.1 1692.6,832.4 1693.8,832.2 1695.0,832.2 1696.2,832.5 1697.4,832.4 1698.6,832.6 1699.8,832.4 1701.0,832.2 1702.2,832.4 1703.4,832.4 1704.6,832.6 1705.8,832.6 1707.0,832.4 1708.2,832.4 1709.4,832.2 1710.6,832.5 1711.8,832.3 1713.0,832.3 1714.2,832.2 1715.4,832.2 1716.6,832.5 1717.8,832.2 1719.0,832.6 1720.2,832.2 1721.4,832.5 1722.6,832.3 1723.8,832.2 1725.0,832.5 1726.2,832.3 1727.4,832.5 1728.6,832.3 1729.8,832.2 1731.0,832.5 1732.2,832.5 1733.4,832.5 1734.6,832.5 1735.8,832.2 1737.0,832.5 1738.2,832.5 1739.4,832.4 1740.6,832.6 1741.8,832.3"/>
<polyline fill="none" stroke="#b394e6" stroke-width="0.9" stroke-linejoin="round" points="1300.8,846.5 1302.3,846.4 1303.8,846.1 1305.3,846.1 1306.8,846.4 1308.3,846.4 1309.8,846.2 1311.3,846.2 1312.8,846.4 1314.3,846.2 1315.8,846.4 1317.3,846.3 1318.8,846.1 1320.3,846.3 1321.8,846.3 1323.3,846.3 1324.8,846.4 1326.3,846.2 1327.8,846.4 1329.3,846.3 1330.8,846.3 1332.3,846.3 1333.8,846.3 1335.3,846.3 1336.8,846.4 1338.3,846.5 1339.8,846.4 1341.3,846.3 1342.8,846.2 1344.3,846.1 1345.8,846.5 1347.3,846.4 1348.8,846.4 1350.3,846.2 1351.8,846.3 1353.3,846.4 1354.8,846.4 1356.3,846.3 1357.8,846.1 1359.3,846.2 1360.8,846.3 1362.3,846.1 1363.8,846.2 1365.3,846.1 1366.8,846.2 1368.3,846.1 1369.8,845.8 1371.3,845.7 1372.8,845.7 1374.3,845.7 1375.8,845.6 1377.3,845.6 1378.8,845.5 1380.3,845.0 1381.8,845.2 1383.3,845.0 1384.8,844.8 1386.3,844.5 1387.8,844.2 1389.3,844.1 1390.8,843.9 1392.3,843.5 1393.8,843.3 1395.3,842.8 1396.8,842.4 1398.3,842.3 1399.8,842.1 1401.3,841.5 1402.8,841.4 1404.3,841.1 1405.8,840.5 1407.3,840.3 1408.8,840.1 1410.3,839.7 1411.8,839.3 1413.3,839.1 1414.8,839.1 1416.3,838.9 1417.8,838.6 1419.3,838.3 1420.8,838.5 1422.3,838.4 1423.8,838.2 1425.3,838.3 1426.8,838.5 1428.3,838.6 1429.8,838.6 1431.3,838.7 1432.8,838.9 1434.3,839.0 1435.8,839.3 1437.3,839.5 1438.8,840.0 1440.3,840.2 1441.8,840.6 1443.3,840.8 1444.8,841.2 1446.3,841.4 1447.8,841.7 1449.3,842.3 1450.8,842.5 1452.3,842.7 1453.8,843.2 1455.3,843.5 1456.8,843.5 1458.3,844.0 1459.8,844.1 1461.3,844.4 1462.8,844.4 1464.3,844.6 1465.8,845.1 1467.3,845.3 1468.8,845.3 1470.3,845.4 1471.8,845.5 1473.3,845.8 1474.8,845.8 1476.3,846.1 1477.8,846.3 1479.3,846.5 1480.8,846.9 1482.3,846.9 1483.8,847.2 1485.3,847.4 1486.8,847.6 1488.3,847.5 1489.8,847.3 1491.3,847.1 1492.8,846.4 1494.3,844.8 1495.8,841.3 1497.3,837.5 1498.8,841.9 1500.3,844.5 1501.8,845.2 1503.3,845.4 1504.8,845.8 1506.3,845.4 1507.8,845.2 1509.3,844.0 1510.8,841.3 1512.3,842.3 1513.8,844.6 1515.3,845.4 1516.8,845.7 1518.3,846.1 1519.8,846.2 1521.3,846.0 1522.8,846.0 1524.3,846.1 1525.8,846.2 1527.3,846.4 1528.8,846.4"/>
<polyline fill="none" stroke="#b394e6" stroke-width="0.9" stroke-linejoin="round" points="1536.6,846.1 1537.8,845.5 1539.0,845.9 1540.2,845.8 1541.4,845.6 1542.6,845.5 1543.8,844.2 1545.0,842.9 1546.2,840.5 1547.4,840.1 1548.6,842.6 1549.8,843.7 1551.0,844.4 1552.2,844.5 1553.4,843.9 1554.6,843.8 1555.8,843.3 1557.0,842.5 1558.2,842.0 1559.4,840.8 1560.6,839.6 1561.8,838.3 1563.0,837.4 1564.2,835.9 1565.4,835.7 1566.6,835.3 1567.8,835.7 1569.0,837.3 1570.2,838.2 1571.4,840.2 1572.6,841.6 1573.8,842.8 1575.0,843.1 1576.2,843.7 1577.4,843.4 1578.6,843.4 1579.8,842.6 1581.0,841.5 1582.2,840.7 1583.4,840.3 1584.6,840.9 1585.8,841.3 1587.0,842.3 1588.2,843.1 1589.4,844.2 1590.6,844.9 1591.8,846.2 1593.0,846.7 1594.2,846.8 1595.4,847.4 1596.6,846.8 1597.8,846.7 1599.0,846.2 1600.2,846.1 1601.4,846.3 1602.6,845.9 1603.8,845.8 1605.0,846.0 1606.2,845.9 1607.4,846.3 1608.6,845.7 1609.8,846.3 1611.0,845.7 1612.2,846.3 1613.4,846.1 1614.6,845.8 1615.8,846.0 1617.0,845.8 1618.2,845.8 1619.4,845.8 1620.6,845.9 1621.8,846.3 1623.0,846.3 1624.2,846.3 1625.4,845.7 1626.6,845.8 1627.8,846.3 1629.0,845.7 1630.2,846.1 1631.4,845.8 1632.6,846.3 1633.8,845.7 1635.0,846.2 1636.2,845.9 1637.4,845.7 1638.6,845.6 1639.8,846.2 1641.0,846.0 1642.2,845.8 1643.4,845.9 1644.6,846.2 1645.8,845.7 1647.0,846.0 1648.2,845.6 1649.4,845.6 1650.6,845.9 1651.8,845.7 1653.0,845.0 1654.2,844.4 1655.4,843.3 1656.6,843.6 1657.8,843.8 1659.0,843.5 1660.2,843.0 1661.4,842.7 1662.6,842.2 1663.8,841.7 1665.0,841.0 1666.2,840.3 1667.4,839.7 1668.6,839.8 1669.8,839.4 1671.0,839.4 1672.2,838.4 1673.4,838.1 1674.6,836.8 1675.8,836.3 1677.0,836.0 1678.2,832.6 1679.4,833.0 1680.6,835.2 1681.8,836.9 1683.0,839.3 1684.2,840.9 1685.4,842.5 1686.6,844.2 1687.8,844.7 1689.0,845.1 1690.2,845.6 1691.4,845.9 1692.6,845.6 1693.8,846.0 1695.0,845.9 1696.2,846.0 1697.4,845.7 1698.6,846.1 1699.8,846.2 1701.0,846.3 1702.2,845.9 1703.4,846.1 1704.6,845.9 1705.8,846.2 1707.0,845.7 1708.2,846.3 1709.4,846.3 1710.6,848.1 1711.8,848.2 1713.0,848.1 1714.2,849.3 1715.4,846.5 1716.6,847.4 1717.8,847.9 1719.0,843.7 1720.2,847.2 1721.4,846.8 1722.6,843.3 1723.8,848.4 1725.0,844.8 1726.2,844.1 1727.4,848.1 1728.6,843.3 1729.8,845.0 1731.0,846.3 1732.2,843.2 1733.4,844.8 1734.6,843.9 1735.8,843.4 1737.0,844.0 1738.2,843.1 1739.4,843.2 1740.6,843.9 1741.8,844.0"/>
<polyline fill="none" stroke="#2fbdb4" stroke-width="1.1" stroke-linejoin="round" points="1300.8,858.8 1302.3,858.7 1303.8,858.8 1305.3,858.7 1306.8,858.8 1308.3,858.9 1309.8,858.7 1311.3,858.8 1312.8,858.8 1314.3,858.7 1315.8,858.9 1317.3,858.9 1318.8,858.8 1320.3,858.8 1321.8,858.9 1323.3,858.8 1324.8,858.8 1326.3,858.9 1327.8,858.9 1329.3,858.8 1330.8,858.7 1332.3,858.8 1333.8,858.8 1335.3,858.9 1336.8,858.9 1338.3,858.9 1339.8,858.9 1341.3,858.9 1342.8,858.7 1344.3,858.8 1345.8,858.9 1347.3,858.9 1348.8,858.7 1350.3,858.8 1351.8,858.8 1353.3,858.7 1354.8,858.8 1356.3,858.7 1357.8,858.7 1359.3,858.7 1360.8,858.6 1362.3,858.6 1363.8,858.8 1365.3,858.7 1366.8,858.7 1368.3,858.6 1369.8,858.6 1371.3,858.6 1372.8,858.6 1374.3,858.3 1375.8,858.4 1377.3,858.3 1378.8,858.3 1380.3,858.1 1381.8,858.1 1383.3,858.0 1384.8,857.9 1386.3,857.7 1387.8,857.6 1389.3,857.4 1390.8,857.4 1392.3,857.1 1393.8,856.9 1395.3,856.8 1396.8,856.5 1398.3,856.4 1399.8,856.3 1401.3,856.0 1402.8,855.7 1404.3,855.6 1405.8,855.4 1407.3,855.1 1408.8,854.9 1410.3,854.8 1411.8,854.6 1413.3,854.5 1414.8,854.4 1416.3,854.2 1417.8,854.1 1419.3,854.1 1420.8,854.1 1422.3,854.0 1423.8,854.0 1425.3,854.0 1426.8,854.0 1428.3,854.1 1429.8,854.2 1431.3,854.3 1432.8,854.4 1434.3,854.5 1435.8,854.6 1437.3,854.8 1438.8,854.9 1440.3,855.2 1441.8,855.3 1443.3,855.6 1444.8,855.6 1446.3,855.9 1447.8,856.2 1449.3,856.3 1450.8,856.5 1452.3,856.7 1453.8,856.8 1455.3,857.2 1456.8,857.2 1458.3,857.4 1459.8,857.5 1461.3,857.6 1462.8,857.9 1464.3,857.9 1465.8,857.9 1467.3,858.1 1468.8,858.2 1470.3,858.3 1471.8,858.3 1473.3,858.4 1474.8,858.6 1476.3,858.6 1477.8,858.5 1479.3,858.6 1480.8,858.6 1482.3,858.7 1483.8,858.7 1485.3,858.7 1486.8,858.7 1488.3,858.7 1489.8,858.7 1491.3,858.7 1492.8,858.6 1494.3,858.4 1495.8,857.9 1497.3,857.2 1498.8,858.1 1500.3,858.4 1501.8,858.7 1503.3,858.6 1504.8,858.7 1506.3,858.7 1507.8,858.7 1509.3,858.6 1510.8,858.2 1512.3,858.3 1513.8,858.7 1515.3,858.8 1516.8,858.8 1518.3,858.7 1519.8,858.8 1521.3,858.8 1522.8,858.8 1524.3,858.7 1525.8,858.8 1527.3,858.8 1528.8,858.8"/>
<polyline fill="none" stroke="#2fbdb4" stroke-width="1.1" stroke-linejoin="round" points="1536.6,858.9 1537.8,859.1 1539.0,859.1 1540.2,859.0 1541.4,858.9 1542.6,858.8 1543.8,858.8 1545.0,858.6 1546.2,858.5 1547.4,858.4 1548.6,858.4 1549.8,858.8 1551.0,858.5 1552.2,858.6 1553.4,858.4 1554.6,858.3 1555.8,857.7 1557.0,857.5 1558.2,857.3 1559.4,856.5 1560.6,855.9 1561.8,855.5 1563.0,854.9 1564.2,854.6 1565.4,854.2 1566.6,854.1 1567.8,854.5 1569.0,854.8 1570.2,855.4 1571.4,856.2 1572.6,856.8 1573.8,857.4 1575.0,857.9 1576.2,858.1 1577.4,858.4 1578.6,858.2 1579.8,858.0 1581.0,857.6 1582.2,857.5 1583.4,857.4 1584.6,857.6 1585.8,857.8 1587.0,858.1 1588.2,858.5 1589.4,858.7 1590.6,859.0 1591.8,859.5 1593.0,860.1 1594.2,860.1 1595.4,860.2 1596.6,860.1 1597.8,859.6 1599.0,859.4 1600.2,859.4 1601.4,859.2 1602.6,859.0 1603.8,858.9 1605.0,859.2 1606.2,859.1 1607.4,859.1 1608.6,859.2 1609.8,859.2 1611.0,859.0 1612.2,858.9 1613.4,858.9 1614.6,859.0 1615.8,859.0 1617.0,858.9 1618.2,858.9 1619.4,859.0 1620.6,859.0 1621.8,858.9 1623.0,859.2 1624.2,859.1 1625.4,858.8 1626.6,859.0 1627.8,859.1 1629.0,858.9 1630.2,859.1 1631.4,858.8 1632.6,858.9 1633.8,859.1 1635.0,859.0 1636.2,859.1 1637.4,858.9 1638.6,859.0 1639.8,859.0 1641.0,858.9 1642.2,859.0 1643.4,859.0 1644.6,859.2 1645.8,859.0 1647.0,858.9 1648.2,858.7 1649.4,858.7 1650.6,858.8 1651.8,858.4 1653.0,858.1 1654.2,857.5 1655.4,856.6 1656.6,856.7 1657.8,856.8 1659.0,856.7 1660.2,856.0 1661.4,855.4 1662.6,855.1 1663.8,854.4 1665.0,854.0 1666.2,853.4 1667.4,852.9 1668.6,852.5 1669.8,852.3 1671.0,852.4 1672.2,851.7 1673.4,850.7 1674.6,849.8 1675.8,848.9 1677.0,848.5 1678.2,845.6 1679.4,846.3 1680.6,848.0 1681.8,849.8 1683.0,852.0 1684.2,853.9 1685.4,855.5 1686.6,857.1 1687.8,857.9 1689.0,858.3 1690.2,858.8 1691.4,859.0 1692.6,858.8 1693.8,859.0 1695.0,859.2 1696.2,859.0 1697.4,859.2 1698.6,858.9 1699.8,859.0 1701.0,859.1 1702.2,858.9 1703.4,858.9 1704.6,859.1 1705.8,859.0 1707.0,859.1 1708.2,858.9 1709.4,858.9 1710.6,858.9 1711.8,858.9 1713.0,859.2 1714.2,858.9 1715.4,859.0 1716.6,858.8 1717.8,859.0 1719.0,859.0 1720.2,859.0 1721.4,858.8 1722.6,858.8 1723.8,859.1 1725.0,858.9 1726.2,858.9 1727.4,858.9 1728.6,858.9 1729.8,858.9 1731.0,858.8 1732.2,859.1 1733.4,858.9 1734.6,858.9 1735.8,859.1 1737.0,858.8 1738.2,858.9 1739.4,859.1 1740.6,858.9 1741.8,859.0"/>
<polyline fill="none" stroke="#bdf3ee" stroke-width="0.9" stroke-linejoin="round" points="1300.8,872.0 1302.3,872.0 1303.8,872.0 1305.3,872.0 1306.8,872.0 1308.3,872.0 1309.8,872.0 1311.3,872.0 1312.8,872.0 1314.3,872.0 1315.8,872.0 1317.3,872.0 1318.8,872.0 1320.3,872.0 1321.8,872.0 1323.3,872.0 1324.8,872.0 1326.3,872.0 1327.8,872.0 1329.3,872.0 1330.8,872.0 1332.3,872.0 1333.8,872.0 1335.3,872.0 1336.8,872.0 1338.3,872.0 1339.8,872.0 1341.3,872.0 1342.8,872.0 1344.3,872.0 1345.8,872.0 1347.3,872.0 1348.8,872.0 1350.3,872.0 1351.8,872.0 1353.3,872.0 1354.8,872.0 1356.3,872.0 1357.8,872.0 1359.3,872.0 1360.8,872.0 1362.3,871.9 1363.8,871.9 1365.3,871.9 1366.8,871.9 1368.3,871.9 1369.8,871.9 1371.3,871.8 1372.8,871.8 1374.3,871.8 1375.8,871.8 1377.3,871.8 1378.8,871.7 1380.3,871.6 1381.8,871.6 1383.3,871.5 1384.8,871.5 1386.3,871.4 1387.8,871.3 1389.3,871.3 1390.8,871.2 1392.3,871.1 1393.8,871.0 1395.3,870.9 1396.8,870.8 1398.3,870.7 1399.8,870.6 1401.3,870.5 1402.8,870.4 1404.3,870.3 1405.8,870.2 1407.3,870.0 1408.8,869.9 1410.3,869.8 1411.8,869.8 1413.3,869.7 1414.8,869.6 1416.3,869.5 1417.8,869.5 1419.3,869.5 1420.8,869.4 1422.3,869.4 1423.8,869.4 1425.3,869.4 1426.8,869.4 1428.3,869.4 1429.8,869.5 1431.3,869.5 1432.8,869.6 1434.3,869.7 1435.8,869.8 1437.3,869.8 1438.8,869.9 1440.3,870.0 1441.8,870.1 1443.3,870.2 1444.8,870.3 1446.3,870.4 1447.8,870.6 1449.3,870.6 1450.8,870.8 1452.3,870.9 1453.8,870.9 1455.3,871.1 1456.8,871.1 1458.3,871.2 1459.8,871.3 1461.3,871.4 1462.8,871.4 1464.3,871.5 1465.8,871.6 1467.3,871.7 1468.8,871.7 1470.3,871.7 1471.8,871.8 1473.3,871.8 1474.8,871.8 1476.3,871.8 1477.8,871.9 1479.3,871.9 1480.8,871.9 1482.3,871.9 1483.8,871.9 1485.3,872.0 1486.8,871.9 1488.3,872.0 1489.8,872.0 1491.3,871.9 1492.8,871.9 1494.3,871.9 1495.8,871.8 1497.3,871.7 1498.8,871.8 1500.3,871.9 1501.8,872.0 1503.3,872.0 1504.8,872.0 1506.3,872.0 1507.8,871.9 1509.3,871.9 1510.8,871.8 1512.3,871.8 1513.8,871.9 1515.3,872.0 1516.8,872.0 1518.3,872.0 1519.8,872.0 1521.3,872.0 1522.8,872.0 1524.3,872.0 1525.8,872.0 1527.3,872.0 1528.8,872.0"/>
<polyline fill="none" stroke="#bdf3ee" stroke-width="0.9" stroke-linejoin="round" points="1536.6,872.6 1537.8,872.6 1539.0,872.6 1540.2,872.6 1541.4,872.6 1542.6,872.5 1543.8,872.5 1545.0,872.5 1546.2,872.3 1547.4,872.2 1548.6,872.3 1549.8,872.2 1551.0,872.1 1552.2,872.0 1553.4,871.8 1554.6,871.7 1555.8,871.4 1557.0,871.0 1558.2,870.6 1559.4,870.1 1560.6,869.5 1561.8,868.8 1563.0,868.1 1564.2,867.6 1565.4,867.4 1566.6,867.3 1567.8,867.5 1569.0,868.1 1570.2,868.8 1571.4,869.5 1572.6,870.2 1573.8,870.9 1575.0,871.4 1576.2,871.7 1577.4,871.9 1578.6,871.9 1579.8,871.9 1581.0,871.7 1582.2,871.6 1583.4,871.6 1584.6,871.6 1585.8,871.7 1587.0,871.9 1588.2,872.1 1589.4,872.4 1590.6,872.8 1591.8,873.2 1593.0,873.5 1594.2,873.7 1595.4,873.8 1596.6,873.7 1597.8,873.4 1599.0,873.0 1600.2,872.8 1601.4,872.7 1602.6,872.7 1603.8,872.6 1605.0,872.6 1606.2,872.6 1607.4,872.6 1608.6,872.6 1609.8,872.6 1611.0,872.6 1612.2,872.6 1613.4,872.6 1614.6,872.6 1615.8,872.6 1617.0,872.6 1618.2,872.6 1619.4,872.6 1620.6,872.6 1621.8,872.6 1623.0,872.6 1624.2,872.6 1625.4,872.6 1626.6,872.6 1627.8,872.6 1629.0,872.6 1630.2,872.6 1631.4,872.6 1632.6,872.6 1633.8,872.6 1635.0,872.6 1636.2,872.5 1637.4,872.6 1638.6,872.6 1639.8,872.6 1641.0,872.5 1642.2,872.6 1643.4,872.6 1644.6,872.6 1645.8,872.5 1647.0,872.5 1648.2,872.5 1649.4,872.4 1650.6,872.3 1651.8,872.2 1653.0,871.9 1654.2,871.5 1655.4,870.6 1656.6,870.6 1657.8,870.7 1659.0,870.5 1660.2,870.2 1661.4,869.7 1662.6,869.2 1663.8,868.7 1665.0,868.2 1666.2,867.9 1667.4,867.5 1668.6,867.2 1669.8,867.1 1671.0,866.9 1672.2,866.4 1673.4,865.7 1674.6,864.8 1675.8,864.2 1677.0,863.8 1678.2,861.2 1679.4,861.9 1680.6,863.1 1681.8,864.9 1683.0,866.7 1684.2,868.4 1685.4,869.8 1686.6,870.8 1687.8,871.6 1689.0,872.1 1690.2,872.3 1691.4,872.4 1692.6,872.6 1693.8,872.6 1695.0,872.5 1696.2,872.6 1697.4,872.6 1698.6,872.6 1699.8,872.6 1701.0,872.6 1702.2,872.6 1703.4,872.6 1704.6,872.6 1705.8,872.6 1707.0,872.6 1708.2,872.6 1709.4,872.6 1710.6,872.6 1711.8,872.6 1713.0,872.6 1714.2,872.6 1715.4,872.6 1716.6,872.6 1717.8,872.6 1719.0,872.6 1720.2,872.6 1721.4,872.6 1722.6,872.6 1723.8,872.6 1725.0,872.6 1726.2,872.6 1727.4,872.6 1728.6,872.6 1729.8,872.6 1731.0,872.6 1732.2,872.6 1733.4,872.6 1734.6,872.6 1735.8,872.6 1737.0,872.6 1738.2,872.6 1739.4,872.6 1740.6,872.6 1741.8,872.6"/>
<path d="M1497.1 777 V891.7" stroke="#444" stroke-width="0.7" stroke-dasharray="1.6 1.1" fill="none"/>
<path d="M1511.3 777 V891.7" stroke="#444" stroke-width="0.7" stroke-dasharray="1.6 1.1" fill="none"/>
<path d="M1546.9 776 V891.7" stroke="#444" stroke-width="0.7" stroke-dasharray="1.6 1.1" fill="none"/>
<path d="M1567.1 771 V891.7" stroke="#444" stroke-width="0.7" stroke-dasharray="1.6 1.1" fill="none"/>
<path d="M1583.6 774 V891.7" stroke="#444" stroke-width="0.7" stroke-dasharray="1.6 1.1" fill="none"/>
<path d="M1655.8 773 V891.7" stroke="#444" stroke-width="0.7" stroke-dasharray="1.6 1.1" fill="none"/>
<path d="M1668.8 768 V891.7" stroke="#444" stroke-width="0.7" stroke-dasharray="1.6 1.1" fill="none"/>
<path d="M1677.7 765 V891.7" stroke="#444" stroke-width="0.7" stroke-dasharray="1.6 1.1" fill="none"/>
<path d="M1300.8 892.7 v4.5" stroke="#444" stroke-width="1"/>
<path d="M1391.9 892.7 v4.5" stroke="#444" stroke-width="1"/>
<path d="M1483.1 892.7 v4.5" stroke="#444" stroke-width="1"/>
<path d="M1591.6 892.7 v4.5" stroke="#444" stroke-width="1"/>
<path d="M1682.8 892.7 v4.5" stroke="#444" stroke-width="1"/>
<path d="M1346.4 892.7 v2.6" stroke="#444" stroke-width="1"/>
<path d="M1437.5 892.7 v2.6" stroke="#444" stroke-width="1"/>
<path d="M1546.0 892.7 v2.6" stroke="#444" stroke-width="1"/>
<path d="M1637.2 892.7 v2.6" stroke="#444" stroke-width="1"/>
<path d="M1728.2 892.7 v2.6" stroke="#444" stroke-width="1"/>
<rect x="1529.5" y="891.2" width="6.6" height="3" fill="#fff"/>
<path d="M1527.6 896.9000000000001 l5.2 -8.4 M1534.4 896.9000000000001 l5.2 -8.4" stroke="#444" stroke-width="1" fill="none"/>
<text x="1300.8" y="912.7" font-size="12.1" text-anchor="middle" fill="#222">4000</text>
<text x="1392.0" y="912.7" font-size="12.1" text-anchor="middle" fill="#222">3500</text>
<text x="1483.4" y="912.7" font-size="12.1" text-anchor="middle" fill="#222">3000</text>
<text x="1591.8" y="912.7" font-size="12.1" text-anchor="middle" fill="#222">1500</text>
<text x="1683.0" y="912.7" font-size="12.1" text-anchor="middle" fill="#222">1000</text>
<text x="1456.4" y="933.8" font-size="15.5" fill="#111">Wavenumber (cm<tspan dy="-5.5" dx="1.5" font-size="9">-1</tspan><tspan dy="5.5" dx="1" font-size="15.5">)</tspan></text>
<text transform="translate(1286.8,774.2) rotate(-90)" font-size="15.3" text-anchor="middle" fill="#111">Intensity (a.u)</text>
<text x="1488.5" y="673.6" font-size="7.6" textLength="205.9" lengthAdjust="spacing" fill="#555">N-H bending in amide II and C-N stretching in -CO-NH-</text>
<text x="1601.0" y="695.6" font-size="7.6" textLength="110.8" lengthAdjust="spacing" fill="#555">Phosphate and sulfide groups</text>
<text x="1311.5" y="707.5" font-size="7.6" textLength="200.5" lengthAdjust="spacing" fill="#555">C=O stretching and N-H deformation (amide I region),</text>
<text x="1674.8" y="714.6" font-size="7.6" textLength="38.5" lengthAdjust="spacing" fill="#555">C-C, C=C,</text>
<text x="1674.8" y="724.6" font-size="7.6" textLength="27" lengthAdjust="spacing" fill="#555">C-O-C,</text>
<text x="1674.8" y="735.4" font-size="7.6" textLength="80.9" lengthAdjust="spacing" fill="#555">C-O-P of saccharides</text>
<text x="1419.0" y="734.4" font-size="7.6" textLength="86.2" lengthAdjust="spacing" fill="#555">C=O stretching of ester</text>
<text x="1340.3" y="751.8" font-size="7.6" textLength="99.0" lengthAdjust="spacing" fill="#555">C-H asymmetric stretching</text>
<path d="M1442.6 755.2 L1496.4 775.6" stroke="#222" stroke-width="1.0" fill="none"/><path d="M1496.4 775.6 L1490.5 775.5 L1492.0 771.8 Z" fill="#111"/>
<path d="M1442.6 755.2 L1510.4 776.4" stroke="#222" stroke-width="1.0" fill="none"/><path d="M1510.4 776.4 L1504.6 776.7 L1505.7 772.8 Z" fill="#111"/>
<path d="M1508.4 735.0 Q1522 744 1546.4 775.2" stroke="#222" stroke-width="0.8" fill="none"/><path d="M1546.4 775.2 L1541.4 772.1 L1544.6 769.6 Z" fill="#111"/>
<path d="M1512.6 707.4 Q1524 716 1564.8 767.6" stroke="#222" stroke-width="0.8" fill="none"/><path d="M1564.8 767.6 L1559.8 764.5 L1563.0 762.0 Z" fill="#111"/>
<path d="M1576.4 677.8 L1585.0 771.0" stroke="#222" stroke-width="0.8" fill="none"/><path d="M1585.0 771.0 L1582.5 765.7 L1586.5 765.3 Z" fill="#111"/>
<path d="M1648.4 699.2 L1656.6 769.6" stroke="#222" stroke-width="0.8" fill="none"/><path d="M1656.6 769.6 L1654.0 764.4 L1658.0 763.9 Z" fill="#111"/>
<path d="M1648.4 699.2 L1668.2 766.0" stroke="#222" stroke-width="0.8" fill="none"/><path d="M1668.2 766.0 L1664.7 761.3 L1668.6 760.2 Z" fill="#111"/>
<path d="M1714.0 738.6 L1680.8 763.8" stroke="#222" stroke-width="0.8" fill="none"/><path d="M1680.8 763.8 L1684.0 758.9 L1686.4 762.1 Z" fill="#111"/>
<text x="1302.6" y="775.6" font-size="8.7" font-weight="bold" fill="#111"><tspan font-style="italic" textLength="36.5" lengthAdjust="spacing">Benniella</tspan><tspan x="1340.5">+ _</tspan><tspan x="1349.6" letter-spacing="0.7">PDB</tspan></text>
<text x="1302.6" y="789.8" font-size="8.7" font-weight="normal" fill="#7a7a7a"><tspan font-style="italic" textLength="36.5" lengthAdjust="spacing">Benniella</tspan><tspan x="1340.5">-_</tspan><tspan x="1349.6" letter-spacing="0.7">PDB</tspan></text>
<text x="1302.6" y="803.9" font-size="8.7" font-weight="bold" fill="#e0413c"><tspan font-style="italic" textLength="36.5" lengthAdjust="spacing">Benniella</tspan><tspan x="1340.5">+_</tspan><tspan x="1347.8" letter-spacing="0.4">Cu</tspan></text>
<text x="1361.4" y="799.6999999999999" font-size="5.6" font-weight="bold" fill="#e0413c">2+</text>
<text x="1302.6" y="818.1" font-size="8.7" font-weight="normal" fill="#e87b74"><tspan font-style="italic" textLength="36.5" lengthAdjust="spacing">Benniella</tspan><tspan x="1340.5">- </tspan><tspan x="1347.8" letter-spacing="0.4">Cu</tspan></text>
<text x="1361.4" y="813.9" font-size="5.6" font-weight="normal" fill="#e87b74">2+</text>
<text x="1302.6" y="831.4" font-size="8.7" font-weight="bold" fill="#7b4fc9"><tspan font-style="italic" textLength="36.5" lengthAdjust="spacing">Benniella</tspan><tspan x="1340.5">+ </tspan><tspan x="1347.8" letter-spacing="0.4">Ca</tspan></text>
<text x="1361.4" y="827.1999999999999" font-size="5.6" font-weight="bold" fill="#7b4fc9">2+</text>
<text x="1302.6" y="844.6" font-size="8.7" font-weight="normal" fill="#b394e6"><tspan font-style="italic" textLength="36.5" lengthAdjust="spacing">Benniella</tspan><tspan x="1340.5">-_</tspan><tspan x="1347.8" letter-spacing="0.4">Ca</tspan></text>
<text x="1361.4" y="840.4" font-size="5.6" font-weight="normal" fill="#b394e6">2+</text>
<text x="1302.4" y="856.6" font-size="7" font-weight="bold" fill="#23a79e"><tspan textLength="44" lengthAdjust="spacing">Other Metals</tspan><tspan x="1350.4" font-style="italic" font-weight="normal" fill="#46d6cc" textLength="39" lengthAdjust="spacing">Benniella +</tspan></text>
<text x="1302.0" y="869.2" font-size="7" font-weight="bold" fill="#3fd9d0"><tspan textLength="44" lengthAdjust="spacing">Other Metals</tspan><tspan x="1349.4" font-style="italic" textLength="38" lengthAdjust="spacing">Benniella  -</tspan></text>
</g>
</svg></body></html>
